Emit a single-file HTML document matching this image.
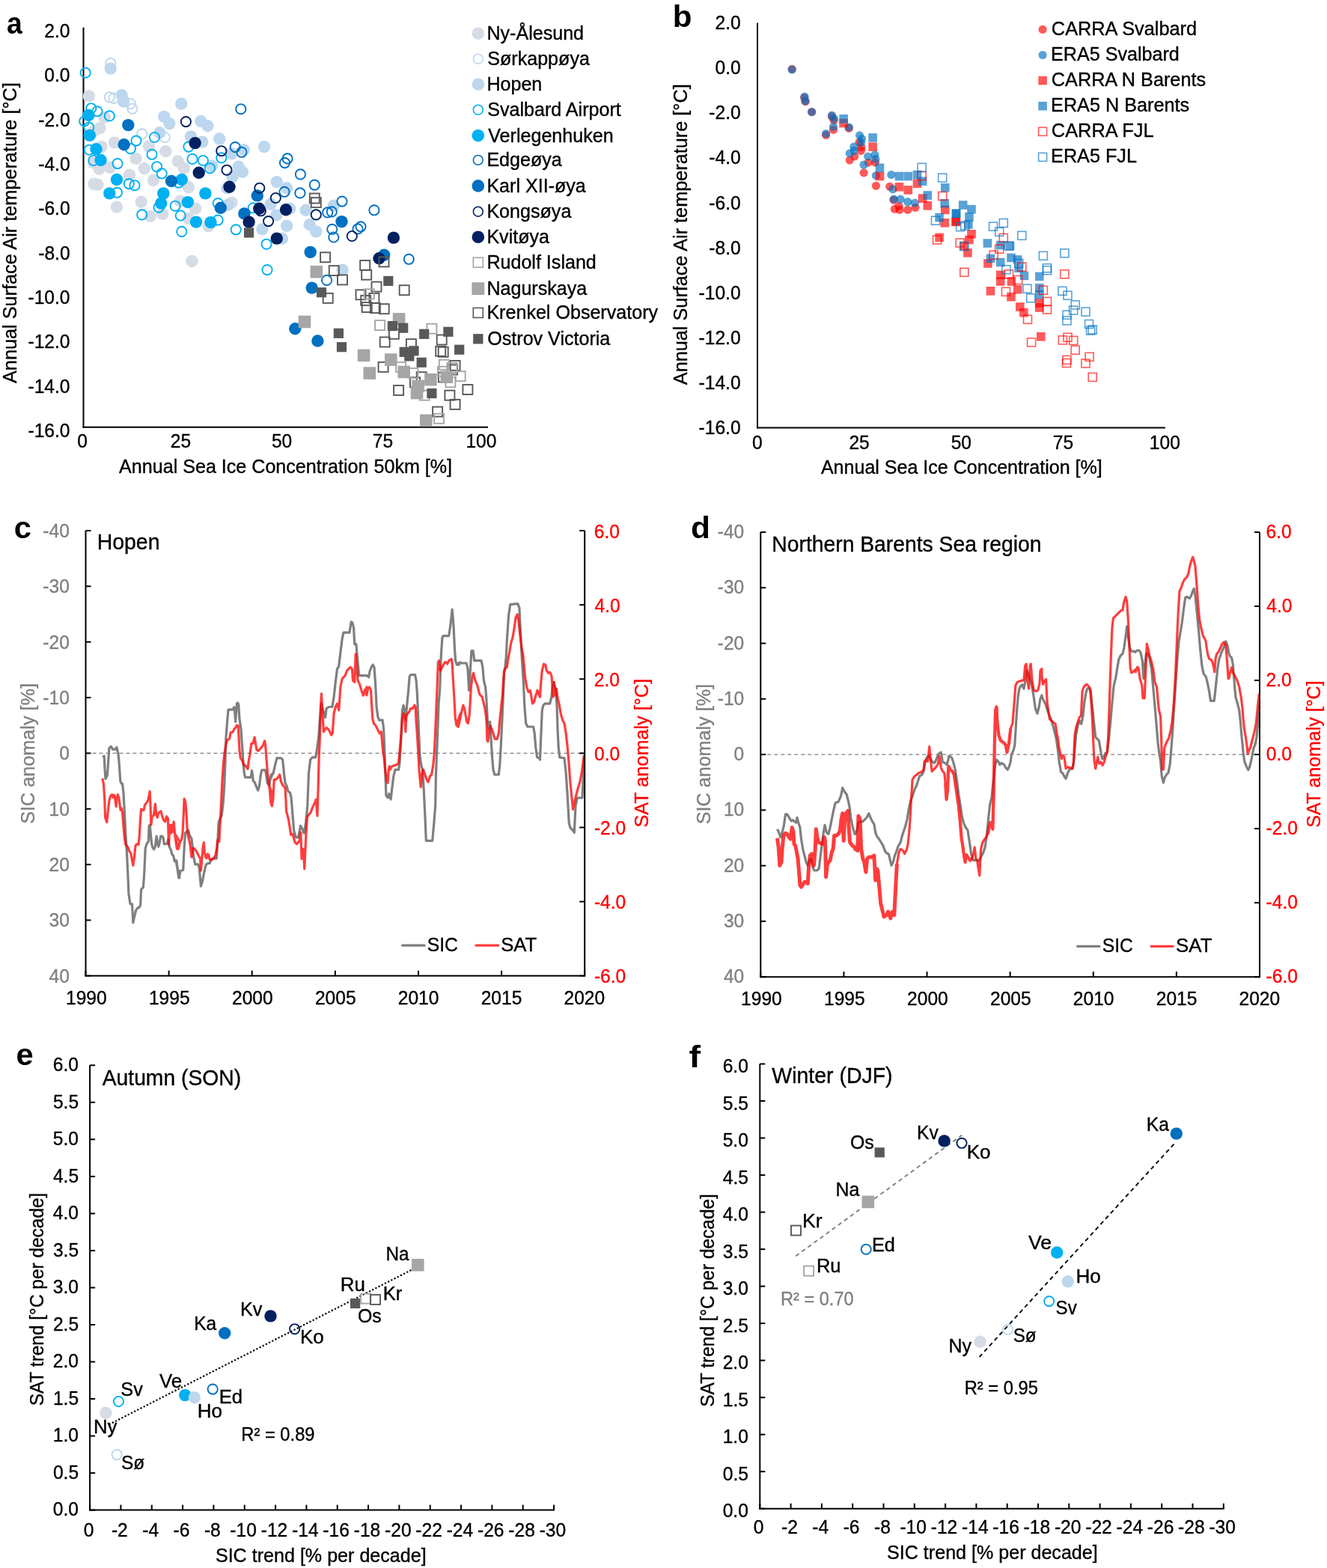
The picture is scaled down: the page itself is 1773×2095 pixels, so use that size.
<!DOCTYPE html><html><head><meta charset="utf-8"><title>Figure</title><style>html,body{margin:0;padding:0;background:#fff;}svg{display:block;}svg{font-family:"Liberation Sans", Arial, sans-serif;font-size:24.6px;}</style></head><body>
<svg width="1773" height="2095" viewBox="0 0 1773 2095">
<rect width="1773" height="2095" fill="#fff"/>
<text transform="translate(8.93 45.4) scale(1 1.045)" font-size="39" font-weight="bold" textLength="20.73" lengthAdjust="spacingAndGlyphs">a</text>
<line x1="111.5" y1="36.8" x2="111.5" y2="571.7" stroke="#000" stroke-width="2"/>
<line x1="110.5" y1="570.7" x2="652" y2="570.7" stroke="#000" stroke-width="2"/>
<text transform="translate(59.37 50) scale(1 1.045)" stroke="#000" stroke-width="0.35">2.0</text>
<text transform="translate(59.37 109.32) scale(1 1.045)" stroke="#000" stroke-width="0.35">0.0</text>
<text transform="translate(51.25 168.64) scale(1 1.045)" stroke="#000" stroke-width="0.35">-2.0</text>
<text transform="translate(51.25 227.96) scale(1 1.045)" stroke="#000" stroke-width="0.35">-4.0</text>
<text transform="translate(51.25 287.28) scale(1 1.045)" stroke="#000" stroke-width="0.35">-6.0</text>
<text transform="translate(51.25 346.6) scale(1 1.045)" stroke="#000" stroke-width="0.35">-8.0</text>
<text transform="translate(37.47 405.92) scale(1 1.045)" stroke="#000" stroke-width="0.35">-10.0</text>
<text transform="translate(37.47 465.24) scale(1 1.045)" stroke="#000" stroke-width="0.35">-12.0</text>
<text transform="translate(37.47 524.56) scale(1 1.045)" stroke="#000" stroke-width="0.35">-14.0</text>
<text transform="translate(37.47 583.88) scale(1 1.045)" stroke="#000" stroke-width="0.35">-16.0</text>
<text transform="translate(103.31 598) scale(1 1.045)" stroke="#000" stroke-width="0.35">0</text>
<text transform="translate(227.72 598) scale(1 1.045)" stroke="#000" stroke-width="0.35">25</text>
<text transform="translate(362.89 598) scale(1 1.045)" stroke="#000" stroke-width="0.35">50</text>
<text transform="translate(497.72 598) scale(1 1.045)" stroke="#000" stroke-width="0.35">75</text>
<text transform="translate(622.43 598) scale(1 1.045)" stroke="#000" stroke-width="0.35">100</text>
<text transform="translate(159.1 631.7) scale(1 1.045)" stroke="#000" stroke-width="0.35" textLength="444.99" lengthAdjust="spacingAndGlyphs">Annual Sea Ice Concentration 50km [%]</text>
<text transform="translate(21.8 512) rotate(-90) scale(1 1.045)" stroke="#000" stroke-width="0.35" textLength="401.8" lengthAdjust="spacingAndGlyphs">Annual Surface Air temperature [°C]</text>
<circle cx="118.8" cy="128.4" r="8.2" fill="#d6dce5"/>
<circle cx="139.7" cy="156.9" r="8.2" fill="#d6dce5"/>
<circle cx="133.6" cy="171.2" r="8.2" fill="#d6dce5"/>
<circle cx="153" cy="190.6" r="8.2" fill="#d6dce5"/>
<circle cx="125.4" cy="175.3" r="8.2" fill="#d6dce5"/>
<circle cx="135.6" cy="196.1" r="8.2" fill="#d6dce5"/>
<circle cx="125.4" cy="217.6" r="8.2" fill="#d6dce5"/>
<circle cx="132.6" cy="225.7" r="8.2" fill="#d6dce5"/>
<circle cx="146.8" cy="223.7" r="8.2" fill="#d6dce5"/>
<circle cx="181.5" cy="211.9" r="8.2" fill="#d6dce5"/>
<circle cx="192.8" cy="225.2" r="8.2" fill="#d6dce5"/>
<circle cx="221.3" cy="202.2" r="8.2" fill="#d6dce5"/>
<circle cx="237.7" cy="215.5" r="8.2" fill="#d6dce5"/>
<circle cx="245.8" cy="224.7" r="8.2" fill="#d6dce5"/>
<circle cx="172.9" cy="233.9" r="8.2" fill="#d6dce5"/>
<circle cx="205" cy="241" r="8.2" fill="#d6dce5"/>
<circle cx="125.4" cy="245.6" r="8.2" fill="#d6dce5"/>
<circle cx="130.5" cy="246.6" r="8.2" fill="#d6dce5"/>
<circle cx="156" cy="276.7" r="8.2" fill="#d6dce5"/>
<circle cx="188.7" cy="269.6" r="8.2" fill="#d6dce5"/>
<circle cx="200.9" cy="289" r="8.2" fill="#d6dce5"/>
<circle cx="217.2" cy="285.9" r="8.2" fill="#d6dce5"/>
<circle cx="251.9" cy="250.2" r="8.2" fill="#d6dce5"/>
<circle cx="240.7" cy="268.6" r="8.2" fill="#d6dce5"/>
<circle cx="261.1" cy="278.8" r="8.2" fill="#d6dce5"/>
<circle cx="251.9" cy="292" r="8.2" fill="#d6dce5"/>
<circle cx="278.5" cy="302.2" r="8.2" fill="#d6dce5"/>
<circle cx="198.9" cy="195.6" r="8.2" fill="#d6dce5"/>
<circle cx="309.6" cy="270.6" r="8.2" fill="#d6dce5"/>
<circle cx="256.5" cy="348.9" r="8.2" fill="#d6dce5"/>
<circle cx="147.7" cy="84.5" r="6.6" fill="none" stroke="#bdd7ee" stroke-width="1.9"/>
<circle cx="146.3" cy="129.9" r="6.6" fill="none" stroke="#bdd7ee" stroke-width="1.9"/>
<circle cx="151.9" cy="131.4" r="6.6" fill="none" stroke="#bdd7ee" stroke-width="1.9"/>
<circle cx="174.4" cy="138.6" r="6.6" fill="none" stroke="#bdd7ee" stroke-width="1.9"/>
<circle cx="176.9" cy="145.2" r="6.6" fill="none" stroke="#bdd7ee" stroke-width="1.9"/>
<circle cx="189.7" cy="178.9" r="6.6" fill="none" stroke="#bdd7ee" stroke-width="1.9"/>
<circle cx="220.3" cy="183.5" r="6.6" fill="none" stroke="#bdd7ee" stroke-width="1.9"/>
<circle cx="147.7" cy="91.6" r="8.2" fill="#bdd7ee"/>
<circle cx="162.7" cy="127.3" r="8.2" fill="#bdd7ee"/>
<circle cx="165.2" cy="135.5" r="8.2" fill="#bdd7ee"/>
<circle cx="242.2" cy="138.6" r="8.2" fill="#bdd7ee"/>
<circle cx="219.3" cy="155.9" r="8.2" fill="#bdd7ee"/>
<circle cx="226.4" cy="165.1" r="8.2" fill="#bdd7ee"/>
<circle cx="268.3" cy="162" r="8.2" fill="#bdd7ee"/>
<circle cx="277.4" cy="168.2" r="8.2" fill="#bdd7ee"/>
<circle cx="213.2" cy="177.3" r="8.2" fill="#bdd7ee"/>
<circle cx="255" cy="182.4" r="8.2" fill="#bdd7ee"/>
<circle cx="270.3" cy="189.6" r="8.2" fill="#bdd7ee"/>
<circle cx="293.3" cy="185.5" r="8.2" fill="#bdd7ee"/>
<circle cx="283.1" cy="221.6" r="8.2" fill="#bdd7ee"/>
<circle cx="325.9" cy="200.2" r="8.2" fill="#bdd7ee"/>
<circle cx="353" cy="196.1" r="8.2" fill="#bdd7ee"/>
<circle cx="318.8" cy="222.7" r="8.2" fill="#bdd7ee"/>
<circle cx="323.9" cy="229.8" r="8.2" fill="#bdd7ee"/>
<circle cx="310.6" cy="235.9" r="8.2" fill="#bdd7ee"/>
<circle cx="369.8" cy="243.1" r="8.2" fill="#bdd7ee"/>
<circle cx="383.1" cy="251.2" r="8.2" fill="#bdd7ee"/>
<circle cx="303.5" cy="251.2" r="8.2" fill="#bdd7ee"/>
<circle cx="361.6" cy="272.7" r="8.2" fill="#bdd7ee"/>
<circle cx="304.5" cy="273.7" r="8.2" fill="#bdd7ee"/>
<circle cx="369.3" cy="287.4" r="8.2" fill="#bdd7ee"/>
<circle cx="383.1" cy="301.7" r="8.2" fill="#bdd7ee"/>
<circle cx="350.4" cy="306.3" r="8.2" fill="#bdd7ee"/>
<circle cx="408.6" cy="280.8" r="8.2" fill="#bdd7ee"/>
<circle cx="413.7" cy="300.2" r="8.2" fill="#bdd7ee"/>
<circle cx="422.3" cy="309.4" r="8.2" fill="#bdd7ee"/>
<circle cx="445.8" cy="274.7" r="8.2" fill="#bdd7ee"/>
<circle cx="376.9" cy="318.6" r="8.2" fill="#bdd7ee"/>
<circle cx="387.1" cy="278.8" r="8.2" fill="#bdd7ee"/>
<circle cx="309.6" cy="205.3" r="8.2" fill="#bdd7ee"/>
<circle cx="457.5" cy="360.6" r="8.2" fill="#bdd7ee"/>
<circle cx="114.2" cy="97.2" r="6.6" fill="none" stroke="#00b0f0" stroke-width="1.9"/>
<circle cx="121.8" cy="144.7" r="6.6" fill="none" stroke="#00b0f0" stroke-width="1.9"/>
<circle cx="130" cy="148.8" r="6.6" fill="none" stroke="#00b0f0" stroke-width="1.9"/>
<circle cx="146.3" cy="154.9" r="6.6" fill="none" stroke="#00b0f0" stroke-width="1.9"/>
<circle cx="112.7" cy="162" r="6.6" fill="none" stroke="#00b0f0" stroke-width="1.9"/>
<circle cx="118.8" cy="170.2" r="6.6" fill="none" stroke="#00b0f0" stroke-width="1.9"/>
<circle cx="182" cy="188.1" r="6.6" fill="none" stroke="#00b0f0" stroke-width="1.9"/>
<circle cx="206.5" cy="183.5" r="6.6" fill="none" stroke="#00b0f0" stroke-width="1.9"/>
<circle cx="119.3" cy="200.2" r="6.6" fill="none" stroke="#00b0f0" stroke-width="1.9"/>
<circle cx="174.4" cy="198.7" r="6.6" fill="none" stroke="#00b0f0" stroke-width="1.9"/>
<circle cx="124.9" cy="214.5" r="6.6" fill="none" stroke="#00b0f0" stroke-width="1.9"/>
<circle cx="157" cy="218.6" r="6.6" fill="none" stroke="#00b0f0" stroke-width="1.9"/>
<circle cx="203" cy="206.3" r="6.6" fill="none" stroke="#00b0f0" stroke-width="1.9"/>
<circle cx="209.6" cy="222.7" r="6.6" fill="none" stroke="#00b0f0" stroke-width="1.9"/>
<circle cx="216.2" cy="231.8" r="6.6" fill="none" stroke="#00b0f0" stroke-width="1.9"/>
<circle cx="172.3" cy="245.6" r="6.6" fill="none" stroke="#00b0f0" stroke-width="1.9"/>
<circle cx="180" cy="247.7" r="6.6" fill="none" stroke="#00b0f0" stroke-width="1.9"/>
<circle cx="156.5" cy="257.3" r="6.6" fill="none" stroke="#00b0f0" stroke-width="1.9"/>
<circle cx="257" cy="212.4" r="6.6" fill="none" stroke="#00b0f0" stroke-width="1.9"/>
<circle cx="271.3" cy="214.5" r="6.6" fill="none" stroke="#00b0f0" stroke-width="1.9"/>
<circle cx="280.5" cy="224.7" r="6.6" fill="none" stroke="#00b0f0" stroke-width="1.9"/>
<circle cx="251.9" cy="196.1" r="6.6" fill="none" stroke="#00b0f0" stroke-width="1.9"/>
<circle cx="238.7" cy="244.1" r="6.6" fill="none" stroke="#00b0f0" stroke-width="1.9"/>
<circle cx="234.1" cy="275.2" r="6.6" fill="none" stroke="#00b0f0" stroke-width="1.9"/>
<circle cx="212.1" cy="277.2" r="6.6" fill="none" stroke="#00b0f0" stroke-width="1.9"/>
<circle cx="189.7" cy="286.9" r="6.6" fill="none" stroke="#00b0f0" stroke-width="1.9"/>
<circle cx="241.2" cy="288" r="6.6" fill="none" stroke="#00b0f0" stroke-width="1.9"/>
<circle cx="242.8" cy="309.4" r="6.6" fill="none" stroke="#00b0f0" stroke-width="1.9"/>
<circle cx="295.8" cy="210.9" r="6.6" fill="none" stroke="#00b0f0" stroke-width="1.9"/>
<circle cx="291.2" cy="271.6" r="6.6" fill="none" stroke="#00b0f0" stroke-width="1.9"/>
<circle cx="338.2" cy="277.8" r="6.6" fill="none" stroke="#00b0f0" stroke-width="1.9"/>
<circle cx="315.2" cy="306.8" r="6.6" fill="none" stroke="#00b0f0" stroke-width="1.9"/>
<circle cx="356" cy="326.2" r="6.6" fill="none" stroke="#00b0f0" stroke-width="1.9"/>
<circle cx="291.2" cy="294.1" r="6.6" fill="none" stroke="#00b0f0" stroke-width="1.9"/>
<circle cx="357" cy="360.6" r="6.6" fill="none" stroke="#00b0f0" stroke-width="1.9"/>
<circle cx="118.3" cy="153.9" r="8.2" fill="#00b0f0"/>
<circle cx="119.8" cy="180.9" r="8.2" fill="#00b0f0"/>
<circle cx="128.5" cy="199.2" r="8.2" fill="#00b0f0"/>
<circle cx="134.6" cy="214" r="8.2" fill="#00b0f0"/>
<circle cx="156" cy="240" r="8.2" fill="#00b0f0"/>
<circle cx="146.3" cy="258.4" r="8.2" fill="#00b0f0"/>
<circle cx="218.3" cy="258.4" r="8.2" fill="#00b0f0"/>
<circle cx="215.2" cy="271.6" r="8.2" fill="#00b0f0"/>
<circle cx="242.8" cy="240" r="8.2" fill="#00b0f0"/>
<circle cx="250.9" cy="270.1" r="8.2" fill="#00b0f0"/>
<circle cx="274.4" cy="258.4" r="8.2" fill="#00b0f0"/>
<circle cx="262.1" cy="296.6" r="8.2" fill="#00b0f0"/>
<circle cx="281.5" cy="297.1" r="8.2" fill="#00b0f0"/>
<circle cx="321.8" cy="145.7" r="6.6" fill="none" stroke="#0070c0" stroke-width="1.9"/>
<circle cx="314.2" cy="196.6" r="6.6" fill="none" stroke="#0070c0" stroke-width="1.9"/>
<circle cx="322.9" cy="203.3" r="6.6" fill="none" stroke="#0070c0" stroke-width="1.9"/>
<circle cx="384.1" cy="211.9" r="6.6" fill="none" stroke="#0070c0" stroke-width="1.9"/>
<circle cx="380.5" cy="217.6" r="6.6" fill="none" stroke="#0070c0" stroke-width="1.9"/>
<circle cx="401.4" cy="232.9" r="6.6" fill="none" stroke="#0070c0" stroke-width="1.9"/>
<circle cx="420.3" cy="247.1" r="6.6" fill="none" stroke="#0070c0" stroke-width="1.9"/>
<circle cx="380" cy="256.3" r="6.6" fill="none" stroke="#0070c0" stroke-width="1.9"/>
<circle cx="400.9" cy="257.9" r="6.6" fill="none" stroke="#0070c0" stroke-width="1.9"/>
<circle cx="437.7" cy="283.9" r="6.6" fill="none" stroke="#0070c0" stroke-width="1.9"/>
<circle cx="443.3" cy="282.9" r="6.6" fill="none" stroke="#0070c0" stroke-width="1.9"/>
<circle cx="457" cy="269.1" r="6.6" fill="none" stroke="#0070c0" stroke-width="1.9"/>
<circle cx="443.8" cy="306.3" r="6.6" fill="none" stroke="#0070c0" stroke-width="1.9"/>
<circle cx="445.8" cy="317" r="6.6" fill="none" stroke="#0070c0" stroke-width="1.9"/>
<circle cx="499.9" cy="280.8" r="6.6" fill="none" stroke="#0070c0" stroke-width="1.9"/>
<circle cx="478" cy="305.8" r="6.6" fill="none" stroke="#0070c0" stroke-width="1.9"/>
<circle cx="482" cy="302.8" r="6.6" fill="none" stroke="#0070c0" stroke-width="1.9"/>
<circle cx="436.6" cy="374.4" r="6.6" fill="none" stroke="#0070c0" stroke-width="1.9"/>
<circle cx="546.3" cy="346.3" r="6.6" fill="none" stroke="#0070c0" stroke-width="1.9"/>
<circle cx="171.3" cy="167.1" r="8.2" fill="#0070c0"/>
<circle cx="165.7" cy="193.2" r="8.2" fill="#0070c0"/>
<circle cx="229" cy="242" r="8.2" fill="#0070c0"/>
<circle cx="343.8" cy="261.4" r="8.2" fill="#0070c0"/>
<circle cx="294.8" cy="277.8" r="8.2" fill="#0070c0"/>
<circle cx="326.4" cy="285.4" r="8.2" fill="#0070c0"/>
<circle cx="456.5" cy="296.1" r="8.2" fill="#0070c0"/>
<circle cx="414.7" cy="336.9" r="8.2" fill="#0070c0"/>
<circle cx="416.7" cy="384.6" r="8.2" fill="#0070c0"/>
<circle cx="394.3" cy="439.2" r="8.2" fill="#0070c0"/>
<circle cx="424.4" cy="455.5" r="8.2" fill="#0070c0"/>
<circle cx="513.2" cy="340.7" r="8.2" fill="#0070c0"/>
<circle cx="248.4" cy="162.6" r="6.6" fill="none" stroke="#002060" stroke-width="1.9"/>
<circle cx="295.8" cy="201.7" r="6.6" fill="none" stroke="#002060" stroke-width="1.9"/>
<circle cx="303" cy="227.2" r="6.6" fill="none" stroke="#002060" stroke-width="1.9"/>
<circle cx="346.8" cy="251.2" r="6.6" fill="none" stroke="#002060" stroke-width="1.9"/>
<circle cx="368.3" cy="264.5" r="6.6" fill="none" stroke="#002060" stroke-width="1.9"/>
<circle cx="358.6" cy="295.6" r="6.6" fill="none" stroke="#002060" stroke-width="1.9"/>
<circle cx="422.3" cy="286.9" r="6.6" fill="none" stroke="#002060" stroke-width="1.9"/>
<circle cx="348.4" cy="281.8" r="6.6" fill="none" stroke="#002060" stroke-width="1.9"/>
<circle cx="470.3" cy="315.5" r="6.6" fill="none" stroke="#002060" stroke-width="1.9"/>
<circle cx="260.6" cy="191.1" r="8.2" fill="#002060"/>
<circle cx="265.7" cy="230.8" r="8.2" fill="#002060"/>
<circle cx="306.5" cy="249.7" r="8.2" fill="#002060"/>
<circle cx="346.3" cy="278.8" r="8.2" fill="#002060"/>
<circle cx="382" cy="280.3" r="8.2" fill="#002060"/>
<circle cx="332.6" cy="296.6" r="8.2" fill="#002060"/>
<circle cx="369.8" cy="318.6" r="8.2" fill="#002060"/>
<circle cx="525.9" cy="317.6" r="8.2" fill="#002060"/>
<circle cx="506.5" cy="345.3" r="8.2" fill="#002060"/>
<rect x="413.8" y="258.5" width="13" height="13" fill="none" stroke="#595959" stroke-width="1.9"/>
<rect x="415.8" y="264.1" width="13" height="13" fill="none" stroke="#595959" stroke-width="1.9"/>
<rect x="428.1" y="337.3" width="13" height="13" fill="none" stroke="#595959" stroke-width="1.9"/>
<rect x="439.8" y="355.1" width="13" height="13" fill="none" stroke="#595959" stroke-width="1.9"/>
<rect x="451" y="367.4" width="13" height="13" fill="none" stroke="#595959" stroke-width="1.9"/>
<rect x="431.7" y="391.9" width="13" height="13" fill="none" stroke="#595959" stroke-width="1.9"/>
<rect x="506.5" y="343.4" width="13" height="13" fill="none" stroke="#595959" stroke-width="1.9"/>
<rect x="481.2" y="348" width="13" height="13" fill="none" stroke="#595959" stroke-width="1.9"/>
<rect x="483.2" y="360.7" width="13" height="13" fill="none" stroke="#595959" stroke-width="1.9"/>
<rect x="496.5" y="376.6" width="13" height="13" fill="none" stroke="#595959" stroke-width="1.9"/>
<rect x="475.5" y="387.3" width="13" height="13" fill="none" stroke="#595959" stroke-width="1.9"/>
<rect x="493.4" y="391.9" width="13" height="13" fill="none" stroke="#595959" stroke-width="1.9"/>
<rect x="483.7" y="404.1" width="13" height="13" fill="none" stroke="#595959" stroke-width="1.9"/>
<rect x="494.9" y="405.1" width="13" height="13" fill="none" stroke="#595959" stroke-width="1.9"/>
<rect x="506.7" y="406.2" width="13" height="13" fill="none" stroke="#595959" stroke-width="1.9"/>
<rect x="482.2" y="394.9" width="13" height="13" fill="none" stroke="#595959" stroke-width="1.9"/>
<rect x="533.7" y="381.2" width="13" height="13" fill="none" stroke="#595959" stroke-width="1.9"/>
<rect x="519.9" y="439.8" width="13" height="13" fill="none" stroke="#595959" stroke-width="1.9"/>
<rect x="507.7" y="450.5" width="13" height="13" fill="none" stroke="#595959" stroke-width="1.9"/>
<rect x="542.9" y="453.1" width="13" height="13" fill="none" stroke="#595959" stroke-width="1.9"/>
<rect x="583.7" y="447.5" width="13" height="13" fill="none" stroke="#595959" stroke-width="1.9"/>
<rect x="582.2" y="462.8" width="13" height="13" fill="none" stroke="#595959" stroke-width="1.9"/>
<rect x="585.7" y="463.8" width="13" height="13" fill="none" stroke="#595959" stroke-width="1.9"/>
<rect x="505.6" y="483.9" width="13" height="13" fill="none" stroke="#595959" stroke-width="1.9"/>
<rect x="526.1" y="515" width="13" height="13" fill="none" stroke="#595959" stroke-width="1.9"/>
<rect x="556.7" y="497.2" width="13" height="13" fill="none" stroke="#595959" stroke-width="1.9"/>
<rect x="548" y="504.3" width="13" height="13" fill="none" stroke="#595959" stroke-width="1.9"/>
<rect x="601.6" y="481.9" width="13" height="13" fill="none" stroke="#595959" stroke-width="1.9"/>
<rect x="594.4" y="521.7" width="13" height="13" fill="none" stroke="#595959" stroke-width="1.9"/>
<rect x="601.6" y="533.9" width="13" height="13" fill="none" stroke="#595959" stroke-width="1.9"/>
<rect x="618.4" y="514" width="13" height="13" fill="none" stroke="#595959" stroke-width="1.9"/>
<rect x="578.1" y="543.6" width="13" height="13" fill="none" stroke="#595959" stroke-width="1.9"/>
<rect x="585.9" y="497.5" width="13" height="13" fill="none" stroke="#595959" stroke-width="1.9"/>
<rect x="598.1" y="487.5" width="13" height="13" fill="none" stroke="#595959" stroke-width="1.9"/>
<rect x="486.8" y="386.3" width="13" height="13" fill="none" stroke="#a6a6a6" stroke-width="1.9"/>
<rect x="501.1" y="428.1" width="13" height="13" fill="none" stroke="#a6a6a6" stroke-width="1.9"/>
<rect x="570.4" y="432.7" width="13" height="13" fill="none" stroke="#a6a6a6" stroke-width="1.9"/>
<rect x="529.1" y="483.9" width="13" height="13" fill="none" stroke="#a6a6a6" stroke-width="1.9"/>
<rect x="545.4" y="492.1" width="13" height="13" fill="none" stroke="#a6a6a6" stroke-width="1.9"/>
<rect x="586.8" y="480.8" width="13" height="13" fill="none" stroke="#a6a6a6" stroke-width="1.9"/>
<rect x="597.5" y="484.9" width="13" height="13" fill="none" stroke="#a6a6a6" stroke-width="1.9"/>
<rect x="608.7" y="496.2" width="13" height="13" fill="none" stroke="#a6a6a6" stroke-width="1.9"/>
<rect x="595.4" y="504.3" width="13" height="13" fill="none" stroke="#a6a6a6" stroke-width="1.9"/>
<rect x="580.1" y="552.8" width="13" height="13" fill="none" stroke="#a6a6a6" stroke-width="1.9"/>
<rect x="560.7" y="521.7" width="13" height="13" fill="none" stroke="#a6a6a6" stroke-width="1.9"/>
<rect x="585" y="489.8" width="13" height="13" fill="none" stroke="#a6a6a6" stroke-width="1.9"/>
<rect x="414.6" y="354.9" width="16.6" height="16.6" fill="#a6a6a6"/>
<rect x="398.7" y="421.7" width="16.6" height="16.6" fill="#a6a6a6"/>
<rect x="524.8" y="418.1" width="16.6" height="16.6" fill="#a6a6a6"/>
<rect x="477.8" y="466.6" width="16.6" height="16.6" fill="#a6a6a6"/>
<rect x="514" y="472.3" width="16.6" height="16.6" fill="#a6a6a6"/>
<rect x="485.5" y="490.3" width="16.6" height="16.6" fill="#a6a6a6"/>
<rect x="531.4" y="488.7" width="16.6" height="16.6" fill="#a6a6a6"/>
<rect x="567.1" y="498.9" width="16.6" height="16.6" fill="#a6a6a6"/>
<rect x="588.5" y="495.4" width="16.6" height="16.6" fill="#a6a6a6"/>
<rect x="548.7" y="516.8" width="16.6" height="16.6" fill="#a6a6a6"/>
<rect x="550.3" y="507.6" width="16.6" height="16.6" fill="#a6a6a6"/>
<rect x="561" y="553.5" width="16.6" height="16.6" fill="#a6a6a6"/>
<rect x="326" y="304.3" width="13.2" height="13.2" fill="#595959"/>
<rect x="422.9" y="384.1" width="13.2" height="13.2" fill="#595959"/>
<rect x="445.8" y="438.7" width="13.2" height="13.2" fill="#595959"/>
<rect x="449.9" y="457.1" width="13.2" height="13.2" fill="#595959"/>
<rect x="512.2" y="368.8" width="13.2" height="13.2" fill="#595959"/>
<rect x="517.8" y="429" width="13.2" height="13.2" fill="#595959"/>
<rect x="532.1" y="431.6" width="13.2" height="13.2" fill="#595959"/>
<rect x="560.1" y="439.7" width="13.2" height="13.2" fill="#595959"/>
<rect x="592.3" y="436.7" width="13.2" height="13.2" fill="#595959"/>
<rect x="607.1" y="460.6" width="13.2" height="13.2" fill="#595959"/>
<rect x="533.6" y="463.7" width="13.2" height="13.2" fill="#595959"/>
<rect x="546.4" y="462.2" width="13.2" height="13.2" fill="#595959"/>
<rect x="540.2" y="469.3" width="13.2" height="13.2" fill="#595959"/>
<rect x="556.6" y="477.7" width="13.2" height="13.2" fill="#595959"/>
<rect x="570.3" y="519" width="13.2" height="13.2" fill="#595959"/>
<circle cx="638.8" cy="44.7" r="8.3" fill="#d6dce5"/>
<text transform="translate(650.39 53.2) scale(1 1.045)" font-size="25.1" stroke="#000" stroke-width="0.35">Ny-Ålesund</text>
<circle cx="638.8" cy="78.7" r="6.4" fill="none" stroke="#bdd7ee" stroke-width="1.6"/>
<text transform="translate(651.27 87.2) scale(1 1.045)" font-size="25.1" stroke="#000" stroke-width="0.35">Sørkappøya</text>
<circle cx="638.8" cy="112.7" r="8.3" fill="#bdd7ee"/>
<text transform="translate(650.39 121.2) scale(1 1.045)" font-size="25.1" stroke="#000" stroke-width="0.35">Hopen</text>
<circle cx="638.8" cy="146.7" r="6.4" fill="none" stroke="#00b0f0" stroke-width="1.6"/>
<text transform="translate(651.27 155.2) scale(1 1.045)" font-size="25.1" stroke="#000" stroke-width="0.35">Svalbard Airport</text>
<circle cx="638.8" cy="181.2" r="8.3" fill="#00b0f0"/>
<text transform="translate(652.27 189.7) scale(1 1.045)" font-size="25.1" stroke="#000" stroke-width="0.35">Verlegenhuken</text>
<circle cx="638.8" cy="213.9" r="6.4" fill="none" stroke="#0070c0" stroke-width="1.6"/>
<text transform="translate(650.39 222.4) scale(1 1.045)" font-size="25.1" stroke="#000" stroke-width="0.35">Edgeøya</text>
<circle cx="638.8" cy="248.4" r="8.3" fill="#0070c0"/>
<text transform="translate(650.39 256.9) scale(1 1.045)" font-size="25.1" stroke="#000" stroke-width="0.35">Karl XII-øya</text>
<circle cx="638.8" cy="282.7" r="6.4" fill="none" stroke="#002060" stroke-width="1.6"/>
<text transform="translate(650.39 291.2) scale(1 1.045)" font-size="25.1" stroke="#000" stroke-width="0.35">Kongsøya</text>
<circle cx="638.8" cy="316.7" r="8.3" fill="#002060"/>
<text transform="translate(650.39 325.2) scale(1 1.045)" font-size="25.1" stroke="#000" stroke-width="0.35">Kvitøya</text>
<rect x="632.3" y="344.2" width="13" height="13" fill="none" stroke="#a6a6a6" stroke-width="1.6"/>
<text transform="translate(650.39 359.2) scale(1 1.045)" font-size="25.1" stroke="#000" stroke-width="0.35">Rudolf Island</text>
<rect x="630.4" y="377.2" width="16.8" height="16.8" fill="#a6a6a6"/>
<text transform="translate(650.39 394.1) scale(1 1.045)" font-size="25.1" stroke="#000" stroke-width="0.35">Nagurskaya</text>
<rect x="632.3" y="411.4" width="13" height="13" fill="none" stroke="#595959" stroke-width="1.6"/>
<text transform="translate(650.39 426.4) scale(1 1.045)" font-size="25.1" stroke="#000" stroke-width="0.35">Krenkel Observatory</text>
<rect x="632.15" y="446.15" width="13.3" height="13.3" fill="#595959"/>
<text transform="translate(651.27 461.3) scale(1 1.045)" font-size="25.1" stroke="#000" stroke-width="0.35">Ostrov Victoria</text>
<text transform="translate(898.76 36.4) scale(1 1.045)" font-size="39" font-weight="bold" textLength="25.73" lengthAdjust="spacingAndGlyphs">b</text>
<line x1="1012" y1="30.4" x2="1012" y2="572.4" stroke="#000" stroke-width="1.8"/>
<line x1="1011.1" y1="571.5" x2="1556.8" y2="571.5" stroke="#000" stroke-width="1.8"/>
<text transform="translate(955.47 39.1) scale(1 1.045)" stroke="#000" stroke-width="0.35">2.0</text>
<text transform="translate(955.47 99.22) scale(1 1.045)" stroke="#000" stroke-width="0.35">0.0</text>
<text transform="translate(947.35 159.34) scale(1 1.045)" stroke="#000" stroke-width="0.35">-2.0</text>
<text transform="translate(947.35 219.46) scale(1 1.045)" stroke="#000" stroke-width="0.35">-4.0</text>
<text transform="translate(947.35 279.58) scale(1 1.045)" stroke="#000" stroke-width="0.35">-6.0</text>
<text transform="translate(947.35 339.7) scale(1 1.045)" stroke="#000" stroke-width="0.35">-8.0</text>
<text transform="translate(933.57 399.82) scale(1 1.045)" stroke="#000" stroke-width="0.35">-10.0</text>
<text transform="translate(933.57 459.94) scale(1 1.045)" stroke="#000" stroke-width="0.35">-12.0</text>
<text transform="translate(933.57 520.06) scale(1 1.045)" stroke="#000" stroke-width="0.35">-14.0</text>
<text transform="translate(933.57 580.18) scale(1 1.045)" stroke="#000" stroke-width="0.35">-16.0</text>
<text transform="translate(1005.11 599.7) scale(1 1.045)" stroke="#000" stroke-width="0.35">0</text>
<text transform="translate(1134.42 599.7) scale(1 1.045)" stroke="#000" stroke-width="0.35">25</text>
<text transform="translate(1270.69 599.7) scale(1 1.045)" stroke="#000" stroke-width="0.35">50</text>
<text transform="translate(1406.82 599.7) scale(1 1.045)" stroke="#000" stroke-width="0.35">75</text>
<text transform="translate(1535.83 599.7) scale(1 1.045)" stroke="#000" stroke-width="0.35">100</text>
<text transform="translate(1096.9 633) scale(1 1.045)" stroke="#000" stroke-width="0.35" textLength="375.83" lengthAdjust="spacingAndGlyphs">Annual Sea Ice Concentration [%]</text>
<text transform="translate(917.7 514.2) rotate(-90) scale(1 1.045)" stroke="#000" stroke-width="0.35" textLength="401.9" lengthAdjust="spacingAndGlyphs">Annual Surface Air temperature [°C]</text>
<circle cx="1058.2" cy="92.4" r="5.6" fill="#ff0000" fill-opacity="0.65"/>
<circle cx="1074.7" cy="130.5" r="5.6" fill="#ff0000" fill-opacity="0.65"/>
<circle cx="1076.2" cy="135.6" r="5.6" fill="#ff0000" fill-opacity="0.65"/>
<circle cx="1084.6" cy="149.6" r="5.6" fill="#ff0000" fill-opacity="0.65"/>
<circle cx="1111.4" cy="155.7" r="5.6" fill="#ff0000" fill-opacity="0.65"/>
<circle cx="1114.2" cy="160.8" r="5.6" fill="#ff0000" fill-opacity="0.65"/>
<circle cx="1113.5" cy="173.4" r="5.6" fill="#ff0000" fill-opacity="0.65"/>
<circle cx="1103.6" cy="180.5" r="5.6" fill="#ff0000" fill-opacity="0.65"/>
<circle cx="1134.2" cy="171.4" r="5.6" fill="#ff0000" fill-opacity="0.65"/>
<circle cx="1148" cy="190.1" r="5.6" fill="#ff0000" fill-opacity="0.65"/>
<circle cx="1151" cy="196.7" r="5.6" fill="#ff0000" fill-opacity="0.65"/>
<circle cx="1150.5" cy="201.3" r="5.6" fill="#ff0000" fill-opacity="0.65"/>
<circle cx="1141.8" cy="209" r="5.6" fill="#ff0000" fill-opacity="0.65"/>
<circle cx="1135.2" cy="214.1" r="5.6" fill="#ff0000" fill-opacity="0.65"/>
<circle cx="1160.2" cy="217.1" r="5.6" fill="#ff0000" fill-opacity="0.65"/>
<circle cx="1169.4" cy="217.1" r="5.6" fill="#ff0000" fill-opacity="0.65"/>
<circle cx="1154.1" cy="230.9" r="5.6" fill="#ff0000" fill-opacity="0.65"/>
<circle cx="1170.4" cy="248.3" r="5.6" fill="#ff0000" fill-opacity="0.65"/>
<circle cx="1188.8" cy="249.3" r="5.6" fill="#ff0000" fill-opacity="0.65"/>
<circle cx="1193.9" cy="267.1" r="5.6" fill="#ff0000" fill-opacity="0.65"/>
<circle cx="1195.4" cy="279.4" r="5.6" fill="#ff0000" fill-opacity="0.65"/>
<circle cx="1202" cy="280.4" r="5.6" fill="#ff0000" fill-opacity="0.65"/>
<circle cx="1212.8" cy="280.4" r="5.6" fill="#ff0000" fill-opacity="0.65"/>
<circle cx="1223" cy="277.3" r="5.6" fill="#ff0000" fill-opacity="0.65"/>
<circle cx="1201" cy="275.3" r="5.6" fill="#ff0000" fill-opacity="0.65"/>
<circle cx="1058.2" cy="93" r="5.6" fill="#0070c0" fill-opacity="0.65"/>
<circle cx="1075" cy="129.2" r="5.6" fill="#0070c0" fill-opacity="0.65"/>
<circle cx="1075.9" cy="135" r="5.6" fill="#0070c0" fill-opacity="0.65"/>
<circle cx="1084.6" cy="149.5" r="5.6" fill="#0070c0" fill-opacity="0.65"/>
<circle cx="1111.4" cy="154" r="5.6" fill="#0070c0" fill-opacity="0.65"/>
<circle cx="1114.2" cy="158.4" r="5.6" fill="#0070c0" fill-opacity="0.65"/>
<circle cx="1113.5" cy="169.3" r="5.6" fill="#0070c0" fill-opacity="0.65"/>
<circle cx="1103.6" cy="178.5" r="5.6" fill="#0070c0" fill-opacity="0.65"/>
<circle cx="1134.2" cy="170" r="5.6" fill="#0070c0" fill-opacity="0.65"/>
<circle cx="1148.5" cy="180.9" r="5.6" fill="#0070c0" fill-opacity="0.65"/>
<circle cx="1151.5" cy="185.5" r="5.6" fill="#0070c0" fill-opacity="0.65"/>
<circle cx="1150.5" cy="190.6" r="5.6" fill="#0070c0" fill-opacity="0.65"/>
<circle cx="1140.8" cy="196.2" r="5.6" fill="#0070c0" fill-opacity="0.65"/>
<circle cx="1135.2" cy="204.9" r="5.6" fill="#0070c0" fill-opacity="0.65"/>
<circle cx="1141.3" cy="201.3" r="5.6" fill="#0070c0" fill-opacity="0.65"/>
<circle cx="1159.7" cy="209" r="5.6" fill="#0070c0" fill-opacity="0.65"/>
<circle cx="1168.9" cy="206.9" r="5.6" fill="#0070c0" fill-opacity="0.65"/>
<circle cx="1169.9" cy="212.6" r="5.6" fill="#0070c0" fill-opacity="0.65"/>
<circle cx="1154.1" cy="220.2" r="5.6" fill="#0070c0" fill-opacity="0.65"/>
<circle cx="1170.4" cy="234.5" r="5.6" fill="#0070c0" fill-opacity="0.65"/>
<circle cx="1190.8" cy="233.5" r="5.6" fill="#0070c0" fill-opacity="0.65"/>
<circle cx="1192.9" cy="252.9" r="5.6" fill="#0070c0" fill-opacity="0.65"/>
<circle cx="1194.4" cy="266.1" r="5.6" fill="#0070c0" fill-opacity="0.65"/>
<circle cx="1203.1" cy="266.1" r="5.6" fill="#0070c0" fill-opacity="0.65"/>
<circle cx="1212.8" cy="269.7" r="5.6" fill="#0070c0" fill-opacity="0.65"/>
<circle cx="1222.4" cy="271.2" r="5.6" fill="#0070c0" fill-opacity="0.65"/>
<rect x="1121.3" y="158.8" width="11.6" height="11.6" fill="#ff0000" fill-opacity="0.65" stroke-opacity="0.65"/>
<rect x="1160.3" y="190.4" width="11.6" height="11.6" fill="#ff0000" fill-opacity="0.65" stroke-opacity="0.65"/>
<rect x="1169.7" y="229.7" width="11.6" height="11.6" fill="#ff0000" fill-opacity="0.65" stroke-opacity="0.65"/>
<rect x="1195.7" y="244" width="11.6" height="11.6" fill="#ff0000" fill-opacity="0.65" stroke-opacity="0.65"/>
<rect x="1207.5" y="248.1" width="11.6" height="11.6" fill="#ff0000" fill-opacity="0.65" stroke-opacity="0.65"/>
<rect x="1219.7" y="239.4" width="11.6" height="11.6" fill="#ff0000" fill-opacity="0.65" stroke-opacity="0.65"/>
<rect x="1226.9" y="259.3" width="11.6" height="11.6" fill="#ff0000" fill-opacity="0.65" stroke-opacity="0.65"/>
<rect x="1233.5" y="269" width="11.6" height="11.6" fill="#ff0000" fill-opacity="0.65" stroke-opacity="0.65"/>
<rect x="1257" y="274.6" width="11.6" height="11.6" fill="#ff0000" fill-opacity="0.65" stroke-opacity="0.65"/>
<rect x="1256.4" y="292" width="11.6" height="11.6" fill="#ff0000" fill-opacity="0.65" stroke-opacity="0.65"/>
<rect x="1271.7" y="289.9" width="11.6" height="11.6" fill="#ff0000" fill-opacity="0.65" stroke-opacity="0.65"/>
<rect x="1271.2" y="290.6" width="11.6" height="11.6" fill="#ff0000" fill-opacity="0.65" stroke-opacity="0.65"/>
<rect x="1249.3" y="311.5" width="11.6" height="11.6" fill="#ff0000" fill-opacity="0.65" stroke-opacity="0.65"/>
<rect x="1292.2" y="307" width="11.6" height="11.6" fill="#ff0000" fill-opacity="0.65" stroke-opacity="0.65"/>
<rect x="1289.1" y="314.6" width="11.6" height="11.6" fill="#ff0000" fill-opacity="0.65" stroke-opacity="0.65"/>
<rect x="1282" y="322.8" width="11.6" height="11.6" fill="#ff0000" fill-opacity="0.65" stroke-opacity="0.65"/>
<rect x="1287.1" y="332" width="11.6" height="11.6" fill="#ff0000" fill-opacity="0.65" stroke-opacity="0.65"/>
<rect x="1314.1" y="346.2" width="11.6" height="11.6" fill="#ff0000" fill-opacity="0.65" stroke-opacity="0.65"/>
<rect x="1330.9" y="361.5" width="11.6" height="11.6" fill="#ff0000" fill-opacity="0.65" stroke-opacity="0.65"/>
<rect x="1330.9" y="370.2" width="11.6" height="11.6" fill="#ff0000" fill-opacity="0.65" stroke-opacity="0.65"/>
<rect x="1345.7" y="370.2" width="11.6" height="11.6" fill="#ff0000" fill-opacity="0.65" stroke-opacity="0.65"/>
<rect x="1353.9" y="380.9" width="11.6" height="11.6" fill="#ff0000" fill-opacity="0.65" stroke-opacity="0.65"/>
<rect x="1317.7" y="383" width="11.6" height="11.6" fill="#ff0000" fill-opacity="0.65" stroke-opacity="0.65"/>
<rect x="1345.2" y="390.9" width="11.6" height="11.6" fill="#ff0000" fill-opacity="0.65" stroke-opacity="0.65"/>
<rect x="1357" y="404.2" width="11.6" height="11.6" fill="#ff0000" fill-opacity="0.65" stroke-opacity="0.65"/>
<rect x="1362.1" y="411.9" width="11.6" height="11.6" fill="#ff0000" fill-opacity="0.65" stroke-opacity="0.65"/>
<rect x="1383" y="399.1" width="11.6" height="11.6" fill="#ff0000" fill-opacity="0.65" stroke-opacity="0.65"/>
<rect x="1383" y="405.2" width="11.6" height="11.6" fill="#ff0000" fill-opacity="0.65" stroke-opacity="0.65"/>
<rect x="1385" y="444" width="11.6" height="11.6" fill="#ff0000" fill-opacity="0.65" stroke-opacity="0.65"/>
<rect x="1121.3" y="153" width="11.6" height="11.6" fill="#0070c0" fill-opacity="0.65" stroke-opacity="0.65"/>
<rect x="1160.3" y="178.2" width="11.6" height="11.6" fill="#0070c0" fill-opacity="0.65" stroke-opacity="0.65"/>
<rect x="1169.7" y="218.5" width="11.6" height="11.6" fill="#0070c0" fill-opacity="0.65" stroke-opacity="0.65"/>
<rect x="1195.7" y="229.7" width="11.6" height="11.6" fill="#0070c0" fill-opacity="0.65" stroke-opacity="0.65"/>
<rect x="1207.5" y="229.7" width="11.6" height="11.6" fill="#0070c0" fill-opacity="0.65" stroke-opacity="0.65"/>
<rect x="1219.7" y="227.7" width="11.6" height="11.6" fill="#0070c0" fill-opacity="0.65" stroke-opacity="0.65"/>
<rect x="1226.9" y="236.3" width="11.6" height="11.6" fill="#0070c0" fill-opacity="0.65" stroke-opacity="0.65"/>
<rect x="1233.5" y="255.2" width="11.6" height="11.6" fill="#0070c0" fill-opacity="0.65" stroke-opacity="0.65"/>
<rect x="1257" y="245" width="11.6" height="11.6" fill="#0070c0" fill-opacity="0.65" stroke-opacity="0.65"/>
<rect x="1256.4" y="265.9" width="11.6" height="11.6" fill="#0070c0" fill-opacity="0.65" stroke-opacity="0.65"/>
<rect x="1249.3" y="284.8" width="11.6" height="11.6" fill="#0070c0" fill-opacity="0.65" stroke-opacity="0.65"/>
<rect x="1271.7" y="279.7" width="11.6" height="11.6" fill="#0070c0" fill-opacity="0.65" stroke-opacity="0.65"/>
<rect x="1280.9" y="268.2" width="11.6" height="11.6" fill="#0070c0" fill-opacity="0.65" stroke-opacity="0.65"/>
<rect x="1292.2" y="273.8" width="11.6" height="11.6" fill="#0070c0" fill-opacity="0.65" stroke-opacity="0.65"/>
<rect x="1271.8" y="279.4" width="11.6" height="11.6" fill="#0070c0" fill-opacity="0.65" stroke-opacity="0.65"/>
<rect x="1289.1" y="284" width="11.6" height="11.6" fill="#0070c0" fill-opacity="0.65" stroke-opacity="0.65"/>
<rect x="1288.1" y="294.2" width="11.6" height="11.6" fill="#0070c0" fill-opacity="0.65" stroke-opacity="0.65"/>
<rect x="1313.6" y="319.2" width="11.6" height="11.6" fill="#0070c0" fill-opacity="0.65" stroke-opacity="0.65"/>
<rect x="1330.9" y="321.8" width="11.6" height="11.6" fill="#0070c0" fill-opacity="0.65" stroke-opacity="0.65"/>
<rect x="1343.7" y="322.8" width="11.6" height="11.6" fill="#0070c0" fill-opacity="0.65" stroke-opacity="0.65"/>
<rect x="1345.2" y="338.6" width="11.6" height="11.6" fill="#0070c0" fill-opacity="0.65" stroke-opacity="0.65"/>
<rect x="1353.9" y="341.1" width="11.6" height="11.6" fill="#0070c0" fill-opacity="0.65" stroke-opacity="0.65"/>
<rect x="1330.9" y="344.7" width="11.6" height="11.6" fill="#0070c0" fill-opacity="0.65" stroke-opacity="0.65"/>
<rect x="1317.7" y="339.6" width="11.6" height="11.6" fill="#0070c0" fill-opacity="0.65" stroke-opacity="0.65"/>
<rect x="1355.4" y="352.4" width="11.6" height="11.6" fill="#0070c0" fill-opacity="0.65" stroke-opacity="0.65"/>
<rect x="1362.6" y="362.6" width="11.6" height="11.6" fill="#0070c0" fill-opacity="0.65" stroke-opacity="0.65"/>
<rect x="1383" y="363.6" width="11.6" height="11.6" fill="#0070c0" fill-opacity="0.65" stroke-opacity="0.65"/>
<rect x="1383" y="378.9" width="11.6" height="11.6" fill="#0070c0" fill-opacity="0.65" stroke-opacity="0.65"/>
<rect x="1383" y="387.9" width="11.6" height="11.6" fill="#0070c0" fill-opacity="0.65" stroke-opacity="0.65"/>
<rect x="1226.1" y="229.5" width="11" height="11" fill="none" stroke="#ff0000" stroke-width="1.6" stroke-opacity="0.65"/>
<rect x="1253.7" y="256.5" width="11" height="11" fill="none" stroke="#ff0000" stroke-width="1.6" stroke-opacity="0.65"/>
<rect x="1277.2" y="319" width="11" height="11" fill="none" stroke="#ff0000" stroke-width="1.6" stroke-opacity="0.65"/>
<rect x="1335.3" y="312.4" width="11" height="11" fill="none" stroke="#ff0000" stroke-width="1.6" stroke-opacity="0.65"/>
<rect x="1329.7" y="327.2" width="11" height="11" fill="none" stroke="#ff0000" stroke-width="1.6" stroke-opacity="0.65"/>
<rect x="1322.1" y="335.3" width="11" height="11" fill="none" stroke="#ff0000" stroke-width="1.6" stroke-opacity="0.65"/>
<rect x="1359.8" y="351.1" width="11" height="11" fill="none" stroke="#ff0000" stroke-width="1.6" stroke-opacity="0.65"/>
<rect x="1282.8" y="358.3" width="11" height="11" fill="none" stroke="#ff0000" stroke-width="1.6" stroke-opacity="0.65"/>
<rect x="1342.5" y="360.8" width="11" height="11" fill="none" stroke="#ff0000" stroke-width="1.6" stroke-opacity="0.65"/>
<rect x="1354.7" y="368.5" width="11" height="11" fill="none" stroke="#ff0000" stroke-width="1.6" stroke-opacity="0.65"/>
<rect x="1416.9" y="360.8" width="11" height="11" fill="none" stroke="#ff0000" stroke-width="1.6" stroke-opacity="0.65"/>
<rect x="1388.4" y="382.3" width="11" height="11" fill="none" stroke="#ff0000" stroke-width="1.6" stroke-opacity="0.65"/>
<rect x="1338.4" y="384.3" width="11" height="11" fill="none" stroke="#ff0000" stroke-width="1.6" stroke-opacity="0.65"/>
<rect x="1246.5" y="314.9" width="11" height="11" fill="none" stroke="#ff0000" stroke-width="1.6" stroke-opacity="0.65"/>
<rect x="1367.5" y="421.3" width="11" height="11" fill="none" stroke="#ff0000" stroke-width="1.6" stroke-opacity="0.65"/>
<rect x="1393.5" y="397.4" width="11" height="11" fill="none" stroke="#ff0000" stroke-width="1.6" stroke-opacity="0.65"/>
<rect x="1393.5" y="408.1" width="11" height="11" fill="none" stroke="#ff0000" stroke-width="1.6" stroke-opacity="0.65"/>
<rect x="1372.6" y="451.9" width="11" height="11" fill="none" stroke="#ff0000" stroke-width="1.6" stroke-opacity="0.65"/>
<rect x="1414.4" y="448.9" width="11" height="11" fill="none" stroke="#ff0000" stroke-width="1.6" stroke-opacity="0.65"/>
<rect x="1421" y="445.3" width="11" height="11" fill="none" stroke="#ff0000" stroke-width="1.6" stroke-opacity="0.65"/>
<rect x="1428.7" y="449.4" width="11" height="11" fill="none" stroke="#ff0000" stroke-width="1.6" stroke-opacity="0.65"/>
<rect x="1431.2" y="462.2" width="11" height="11" fill="none" stroke="#ff0000" stroke-width="1.6" stroke-opacity="0.65"/>
<rect x="1420" y="475.4" width="11" height="11" fill="none" stroke="#ff0000" stroke-width="1.6" stroke-opacity="0.65"/>
<rect x="1419.5" y="479.5" width="11" height="11" fill="none" stroke="#ff0000" stroke-width="1.6" stroke-opacity="0.65"/>
<rect x="1450.1" y="471.3" width="11" height="11" fill="none" stroke="#ff0000" stroke-width="1.6" stroke-opacity="0.65"/>
<rect x="1445" y="480" width="11" height="11" fill="none" stroke="#ff0000" stroke-width="1.6" stroke-opacity="0.65"/>
<rect x="1454.2" y="498.4" width="11" height="11" fill="none" stroke="#ff0000" stroke-width="1.6" stroke-opacity="0.65"/>
<rect x="1226.1" y="218.3" width="11" height="11" fill="none" stroke="#0070c0" stroke-width="1.6" stroke-opacity="0.65"/>
<rect x="1253.7" y="232.1" width="11" height="11" fill="none" stroke="#0070c0" stroke-width="1.6" stroke-opacity="0.65"/>
<rect x="1244.5" y="289.2" width="11" height="11" fill="none" stroke="#0070c0" stroke-width="1.6" stroke-opacity="0.65"/>
<rect x="1277.7" y="297.6" width="11" height="11" fill="none" stroke="#0070c0" stroke-width="1.6" stroke-opacity="0.65"/>
<rect x="1283.8" y="296" width="11" height="11" fill="none" stroke="#0070c0" stroke-width="1.6" stroke-opacity="0.65"/>
<rect x="1321.5" y="297.1" width="11" height="11" fill="none" stroke="#0070c0" stroke-width="1.6" stroke-opacity="0.65"/>
<rect x="1335.3" y="292.5" width="11" height="11" fill="none" stroke="#0070c0" stroke-width="1.6" stroke-opacity="0.65"/>
<rect x="1329.7" y="304.2" width="11" height="11" fill="none" stroke="#0070c0" stroke-width="1.6" stroke-opacity="0.65"/>
<rect x="1359.8" y="309.3" width="11" height="11" fill="none" stroke="#0070c0" stroke-width="1.6" stroke-opacity="0.65"/>
<rect x="1342.5" y="323.1" width="11" height="11" fill="none" stroke="#0070c0" stroke-width="1.6" stroke-opacity="0.65"/>
<rect x="1282.8" y="323.6" width="11" height="11" fill="none" stroke="#0070c0" stroke-width="1.6" stroke-opacity="0.65"/>
<rect x="1338.9" y="354.7" width="11" height="11" fill="none" stroke="#0070c0" stroke-width="1.6" stroke-opacity="0.65"/>
<rect x="1355.7" y="346.5" width="11" height="11" fill="none" stroke="#0070c0" stroke-width="1.6" stroke-opacity="0.65"/>
<rect x="1388.4" y="336.3" width="11" height="11" fill="none" stroke="#0070c0" stroke-width="1.6" stroke-opacity="0.65"/>
<rect x="1416.9" y="332.8" width="11" height="11" fill="none" stroke="#0070c0" stroke-width="1.6" stroke-opacity="0.65"/>
<rect x="1393.5" y="352.7" width="11" height="11" fill="none" stroke="#0070c0" stroke-width="1.6" stroke-opacity="0.65"/>
<rect x="1393.5" y="355.7" width="11" height="11" fill="none" stroke="#0070c0" stroke-width="1.6" stroke-opacity="0.65"/>
<rect x="1366.9" y="380.2" width="11" height="11" fill="none" stroke="#0070c0" stroke-width="1.6" stroke-opacity="0.65"/>
<rect x="1413.9" y="383.3" width="11" height="11" fill="none" stroke="#0070c0" stroke-width="1.6" stroke-opacity="0.65"/>
<rect x="1421" y="389.2" width="11" height="11" fill="none" stroke="#0070c0" stroke-width="1.6" stroke-opacity="0.65"/>
<rect x="1431.2" y="401.9" width="11" height="11" fill="none" stroke="#0070c0" stroke-width="1.6" stroke-opacity="0.65"/>
<rect x="1428.7" y="409.1" width="11" height="11" fill="none" stroke="#0070c0" stroke-width="1.6" stroke-opacity="0.65"/>
<rect x="1420" y="415.2" width="11" height="11" fill="none" stroke="#0070c0" stroke-width="1.6" stroke-opacity="0.65"/>
<rect x="1420" y="422.9" width="11" height="11" fill="none" stroke="#0070c0" stroke-width="1.6" stroke-opacity="0.65"/>
<rect x="1445" y="411.1" width="11" height="11" fill="none" stroke="#0070c0" stroke-width="1.6" stroke-opacity="0.65"/>
<rect x="1449.6" y="427.5" width="11" height="11" fill="none" stroke="#0070c0" stroke-width="1.6" stroke-opacity="0.65"/>
<rect x="1451.6" y="436.1" width="11" height="11" fill="none" stroke="#0070c0" stroke-width="1.6" stroke-opacity="0.65"/>
<rect x="1454.2" y="435.1" width="11" height="11" fill="none" stroke="#0070c0" stroke-width="1.6" stroke-opacity="0.65"/>
<rect x="1371.7" y="392.8" width="11" height="11" fill="none" stroke="#0070c0" stroke-width="1.6" stroke-opacity="0.65"/>
<circle cx="1393.1" cy="39.4" r="5.6" fill="#ff0000" fill-opacity="0.65"/>
<text transform="translate(1404.84 46.9) scale(1 1.045)" font-size="25.2" stroke="#000" stroke-width="0.35" textLength="194.3" lengthAdjust="spacingAndGlyphs">CARRA Svalbard</text>
<circle cx="1393.1" cy="73.5" r="5.6" fill="#0070c0" fill-opacity="0.65"/>
<text transform="translate(1404.08 81) scale(1 1.045)" font-size="25.2" stroke="#000" stroke-width="0.35" textLength="171.71" lengthAdjust="spacingAndGlyphs">ERA5 Svalbard</text>
<rect x="1387.3" y="101.8" width="11.6" height="11.6" fill="#ff0000" fill-opacity="0.65" stroke-opacity="0.65"/>
<text transform="translate(1404.84 115.1) scale(1 1.045)" font-size="25.2" stroke="#000" stroke-width="0.35" textLength="206.23" lengthAdjust="spacingAndGlyphs">CARRA N Barents</text>
<rect x="1387.3" y="135.9" width="11.6" height="11.6" fill="#0070c0" fill-opacity="0.65" stroke-opacity="0.65"/>
<text transform="translate(1404.08 149.2) scale(1 1.045)" font-size="25.2" stroke="#000" stroke-width="0.35" textLength="185.04" lengthAdjust="spacingAndGlyphs">ERA5 N Barents</text>
<rect x="1387.6" y="170.3" width="11" height="11" fill="none" stroke="#ff0000" stroke-width="1.6" stroke-opacity="0.65"/>
<text transform="translate(1404.84 183.3) scale(1 1.045)" font-size="25.2" stroke="#000" stroke-width="0.35" textLength="136.72" lengthAdjust="spacingAndGlyphs">CARRA FJL</text>
<rect x="1387.6" y="204.4" width="11" height="11" fill="none" stroke="#0070c0" stroke-width="1.6" stroke-opacity="0.65"/>
<text transform="translate(1404.08 217.4) scale(1 1.045)" font-size="25.2" stroke="#000" stroke-width="0.35" textLength="114.83" lengthAdjust="spacingAndGlyphs">ERA5 FJL</text>
<text transform="translate(18.84 718.5) scale(1 1.045)" font-size="39" font-weight="bold" textLength="23.18" lengthAdjust="spacingAndGlyphs">c</text>
<text transform="translate(129.73 734.4) scale(1 1.045)" font-size="28.4" stroke="#000" stroke-width="0.35" textLength="83.77" lengthAdjust="spacingAndGlyphs">Hopen</text>
<line x1="114.5" y1="1006.4" x2="781.2" y2="1006.4" stroke="#808080" stroke-width="1.3" stroke-dasharray="5 4"/>
<polyline points="137.1,1011.5 139.2,1010.1 139.9,1025.4 140.9,1040.7 143.4,1035.9 144.8,1015.7 145.9,999.7 148.3,997.3 150.4,1001.1 154.5,1001.1 155.9,998.3 158,1007.3 159.4,1022.6 160.8,1043.5 162.2,1047 163.6,1047 165,1060.2 166.4,1085.3 167.8,1113.1 169.2,1134 170.6,1161.8 171.9,1193.9 174,1207.8 176.5,1207.8 177.9,1232.8 179.6,1224.5 181.7,1216.1 183.8,1213.3 185.9,1212.6 187.7,1209.2 188.6,1188.3 190,1186.9 191.4,1185.5 192.8,1166 194.2,1134 195.2,1129.8 196.6,1126.3 198.4,1124.3 199.1,1103.4 200.2,1102 201.2,1113.1 202.6,1127 204,1132.6 205.8,1134.7 207.4,1131.2 209.1,1117.3 210.2,1124.3 211.6,1131.2 213,1127 214.7,1117.3 216.9,1117.3 218.3,1120.1 219.3,1127.7 221.4,1127.7 223.4,1127 224.8,1121.5 226.2,1131.2 228.3,1135.4 229.7,1141 231.8,1143.7 233.2,1150.7 236,1150.7 237.4,1163.2 238.8,1173 240,1173 235,1149.3 239.2,1173 241.3,1163.2 244.7,1162.5 246.1,1134 247.5,1113.1 251.7,1109.6 253.8,1117.3 255.9,1120.1 257.3,1131.2 258.7,1145.1 260.8,1154.9 264.9,1154.9 266.3,1160.4 268.4,1184.1 270.5,1177.2 272.6,1166 275.4,1154.9 278.2,1153.5 280.2,1153.5 281.6,1149.3 283.7,1147.2 289.3,1147.2 290.7,1127 292.1,1099.2 293.5,1095 296.2,1089.5 298.3,1071.4 299.7,1050.5 301.1,1015.7 301.8,987.8 303.9,960 305.1,948.2 311.6,948.2 312.4,945 313.3,945 314.6,964.5 316.5,940 317.6,939 318.8,941.5 319.9,960 322,973.9 323.4,994.8 324.8,1015.7 326.2,1032.4 327.6,1038.6 335.2,1038.6 336.6,1029.6 337.7,1038 338.3,1043.5 340.1,1044.9 342.9,1051.9 344.7,1056 346.4,1050.5 348.4,1035.2 349.8,1028.9 354.7,1028.9 356.1,1038 357.2,1046.3 359.6,1049.1 361.7,1038 363.1,1035.2 365,1032.4 360,1043.8 362.2,1035 364.9,1033.9 367.7,1021.7 369.9,1012.9 375.4,1012.9 377.7,1015.1 379.4,1032.8 381,1046 383.2,1050.4 384.7,1057 387.6,1059.3 389.1,1065.9 390.9,1087.9 392.7,1110 395.3,1118.8 398.6,1118.8 401.5,1103.4 404.1,1107.8 406.3,1113.3 408.6,1099 410.8,1076.9 412.5,1032.8 414.7,1015.1 417.4,1011.8 421.8,1011.8 424,997.5 425.8,984.2 427.3,962.1 429.5,940.1 431.7,948.9 434.6,958.8 436.1,946.7 439.5,944.5 443.9,944.5 446.1,931.2 448.3,911.4 450.5,893.7 452.7,890.4 454.9,871.7 457.1,854 458.9,845.2 467,845.2 469.2,830.8 470.8,831.9 472.6,838.6 473.7,860.6 475.9,860.6 477,873.9 478.7,891.5 479.6,902.6 490,902.6 485,902.6 490.5,902.6 492.7,904.8 493.8,898.1 496,891.5 498.2,888.2 500,891.5 501.6,913.6 503.1,944.5 504.9,957.7 506.6,962.1 511,962.1 512.6,973.2 513.7,999.7 514.8,1032.8 515.9,1062.6 518.1,1065.9 519.9,1060.4 522.1,1068.1 523.6,1054.8 525.8,1037.2 528,1028.4 532.5,1028.4 534,1019.5 535.8,988.6 537.5,948.9 539.1,942.3 540.6,948.9 541.9,962.1 543.5,944.5 545.7,922.4 547.2,903.7 549,901.5 554.5,901.5 556.1,909.2 557.4,926.8 558.9,962.1 560,988.6 561.1,1010.7 562.7,1021.7 564.5,1028.4 566.2,1054.8 567.8,1087.9 569.3,1123.3 577.7,1123.3 579.9,1099 581.7,1076.9 582.5,1032.8 584.3,988.6 586.1,940.1 587.6,922.4 589.2,878.3 590.9,851.8 592,849.6 599.8,849.6 602,834.1 604.2,814.3 605.9,834.1 607.5,867.2 608.6,882.7 610.4,888.2 613,888.2 615,884.9 610,887.1 612.6,888.2 614.4,886 623.2,886 625,893.7 626.6,922.4 628.1,900.4 629.9,869.5 632.1,869.5 633.8,882.7 643.1,882.7 644.9,891.5 646.4,909.2 648.6,918 649.7,931.2 651.5,964.4 653,973.2 654.6,964.4 655.9,984.2 657.5,1010.7 659,1028.4 660.8,1035 666.3,1035 667.8,1021.7 669.1,999.7 670.7,966.6 672.2,933.5 673.6,900.4 675.1,889.3 676.2,878.3 677.3,856.2 679.5,823.1 681.7,807.7 691.7,806.6 693.9,812.1 695.6,845.2 697.2,878.3 699.4,911.4 700.9,944.5 702.7,966.6 704.9,971 712.6,971 714.2,979.8 715.9,999.7 717.7,1011.8 720.4,1012.9 721.5,1015.1 722.6,988.6 724.3,948.9 725.9,942.3 728.1,940.1 734.7,940.1 736.9,931.2 738,918 740,911.4 740.3,913.6 742.6,920.3 744.1,944.6 745.2,977.7 746.3,999.8 747.8,1011.9 754,1013 756.2,1032.9 758.4,1066 760.2,1099.1 761.8,1105.7 765.1,1109.1 767.3,1112.4 769,1077 771.3,1066 777.9,1066 779.4,1037.3 780.5,1010.8" fill="none" stroke="#7f7f7f" stroke-width="3.2" stroke-linejoin="round"/>
<g opacity="0.76">
<polyline points="136.7,1040 138.5,1047.7 139.9,1071.4 140.6,1092.2 142.7,1098.5 144.1,1085.3 145.9,1070 147.6,1063.7 149.7,1061.6 151.1,1065.8 152.5,1062.3 153.8,1067.2 155.2,1077.6 155.9,1067.2 157.3,1061.6 158.7,1065.1 160.1,1075.5 161.2,1082.5 162.2,1079.7 163.6,1085.3 165,1103.4 166.4,1120.1 167.8,1128.4 169.2,1129.8 171.2,1132.6 173.3,1138.2 174.7,1139.6 176.8,1150.7 177.9,1156.3 179.6,1143.7 181,1129.8 183.1,1127.7 185.2,1128.4 186.3,1115.9 187.3,1097.8 188.6,1081.1 190.5,1082.5 192.1,1082.5 193.5,1075.5 195.2,1073.4 196.6,1071.4 198,1068.6 200.2,1057.4 201.2,1081.1 201.9,1102 203.3,1090.8 205.4,1089.5 207.4,1074.1 208.8,1088.1 210.2,1092.2 211.6,1086.7 213.7,1084.6 215.1,1083.9 216.5,1089.5 218.6,1095.7 220.7,1097.8 222.5,1090.8 224.4,1093.6 225.5,1128.4 226.9,1102 228.6,1113.1 229.7,1102 230.8,1111.7 232.2,1097.8 233.9,1117.3 236,1131.2 237.4,1134.7 238.8,1128.4 240,1124.3 235,1115.9 236.4,1134 238.5,1134 240.6,1125 242.7,1121.5 244,1113.1 245.4,1085.3 246.1,1067.2 247.8,1071.4 248.9,1085.3 250.3,1110.3 251.7,1118.7 253.8,1127 255.9,1145.1 258,1133.3 260.1,1134 262.8,1138.2 265.6,1143.7 267.7,1147.2 268.4,1163.2 269.8,1147.9 271.2,1131.2 272.3,1125.6 273.3,1138.2 274.7,1145.1 276.1,1146.5 277.5,1141 278.8,1142.4 280.2,1148.6 283,1148.6 285.8,1146.5 287.9,1142.4 289.3,1135.4 290.7,1122.9 292.8,1124.3 294.2,1099.2 295.6,1071.4 296.9,1043.5 298.3,1022.6 299.7,1008.7 301.8,994.8 303.9,988.5 306.7,987.1 308.1,978.8 310.9,978.1 313,973.9 315,971.8 316.4,969 318.2,969.7 319.2,987.8 319.9,1001.8 321.3,1012.9 323.4,1015.7 325.5,1021.2 328.3,1023.3 331,1027.5 332.4,1015.7 333.8,1008.7 335.9,993.4 338,993.4 340.1,985.1 341.5,993.4 342.9,1001.8 345,1003.2 347.8,1000.4 351.2,996.2 353.6,989.9 354.7,996.2 356.1,1015.7 357.5,1032.4 359.2,1046.3 361,1060.2 362.4,1074.1 363.1,1076.2 365,1064.4 360,1050.4 361.8,1072.5 363.3,1076.9 364.9,1068.1 366.2,1041.6 368.8,1041.6 371,1039.4 373.7,1035 375.4,1043.8 377.2,1048.2 381,1052.6 382.1,1072.5 382.5,1083.5 385.4,1094.6 386.9,1103.4 388.7,1115.5 390.9,1114.4 394.2,1125.5 396.4,1127.7 398.6,1125.5 400.2,1123.3 401.9,1112.2 403,1147.5 405.2,1134.3 406.8,1160.8 408.6,1121 410.3,1092.4 413,1087.9 415.2,1085.7 417.4,1079.1 420.7,1072.5 422.2,1068.1 424,1090.2 425.1,1054.8 426.2,1010.7 427.3,988.6 428.4,944.5 429.5,926.8 430.6,948.9 432.4,977.6 436.1,972.1 439.5,975.4 442.8,982 444.3,979.8 446.1,953.3 448.3,944.5 450.5,940.1 452.7,948.9 453.8,933.5 454.9,918 457.1,907 461.1,902.6 463.7,895.9 468.1,891.5 470.4,893.7 471.5,909.2 473.7,911.4 475.2,873.9 477,895.9 478.1,909.2 480.3,913.6 483.6,924.6 485.4,929 487.6,924.6 490,918 485,929 487.2,922.4 489,920.2 489.9,929 491.6,920.2 493.4,918 495.6,922.4 496.5,940.1 497.8,959.9 499.3,966.6 501.6,968.8 504.9,975.4 507.1,979.8 509.3,977.6 510.4,988.6 511.5,1001.9 513.2,1012.9 514.8,1030.6 517,1043.8 518.1,1046 519.2,1028.4 520.3,1023.9 521.4,1028.4 523.6,1023.9 526.9,1022.8 530.2,1021.7 532.5,1019.5 534,1004.1 535.8,984.2 537.5,959.9 539.1,953.3 540.6,957.7 541.9,977.6 542.8,957.7 544.6,953.3 546.8,951.1 548.6,946.7 551.2,946.7 553.9,942.3 555.2,944.5 556.1,964.4 557.4,982 558.9,1006.3 560,1028.4 562.2,1051.5 564,1032.8 565.6,1028.4 567.8,1035 570,1041.6 572.2,1044.9 574.4,1037.2 576.6,1035 578.8,1021.7 580.3,1006.3 582.1,966.6 583.9,922.4 585.4,884.9 586.5,882.7 588.3,895.9 590.9,891.5 594.2,884.9 596.5,884.9 597.6,887.1 599.8,882.7 603.1,880.5 604.2,887.1 605.3,907 606.8,931.2 608.2,957.7 609.7,968.8 612.6,964.4 615,953.3 610,968.8 612.2,971 614,964.4 616.2,953.3 618.8,942.3 620.6,946.7 622.1,955.5 623.7,964.4 625.4,966.6 627.2,955.5 628.1,940.1 629.4,918 631,904.8 632.5,899.2 633.8,904.8 635.4,910.3 636.9,913.6 638.7,919.1 640.5,926.8 642,929 644.2,931.2 645.8,937.9 647.5,944.5 649.3,955.5 650.2,966.6 650.8,988.6 651.9,990.8 653,982 654.1,973.2 655.2,969.9 657.5,975.4 659,979.8 661.2,987.5 664.1,987.5 666.3,979.8 667.8,962.1 669.6,944.5 671.4,929 672.2,913.6 673.6,895.9 675.8,892.6 677.3,891.5 678.9,880.5 680.6,871.7 682.8,858.4 685,851.8 687.2,838.6 689,825.3 691.2,820.9 692.8,829.7 695,849.6 697.2,867.2 698.7,873.9 700,887.1 701.6,904.8 703.8,918 706,924.6 708.2,922.4 709.3,926.8 711.5,940.1 713.7,937.9 715.9,929 718.1,922.4 720.4,929 721.5,931.2 722.6,913.6 724.3,895.9 726.5,887.1 728.7,888.2 730.3,895.9 732.5,899.2 734.7,898.1 736.9,902.6 738,915.8 739.1,931.2 740,911.4 741.9,929.1 743.4,920.3 745.2,933.5 747.4,942.4 749.2,953.4 751.8,962.2 754,966.6 756.2,979.9 758.4,999.8 760.2,1021.8 761.8,1043.9 764,1066 765.5,1081.5 768.4,1068.2 771.7,1055 775,1043.9 777.2,1032.9 779.4,1015.2 780.5,1008.6" fill="none" stroke="#ff0000" stroke-width="3.2" stroke-linejoin="round"/>
</g>
<line x1="114.5" y1="709" x2="114.5" y2="1304.8" stroke="#000" stroke-width="2"/>
<line x1="781.2" y1="709" x2="781.2" y2="1304.8" stroke="#000" stroke-width="2"/>
<line x1="113.5" y1="1303.8" x2="782.2" y2="1303.8" stroke="#000" stroke-width="2"/>
<line x1="114.5" y1="709" x2="121.5" y2="709" stroke="#000" stroke-width="2"/>
<line x1="114.5" y1="783.35" x2="121.5" y2="783.35" stroke="#000" stroke-width="2"/>
<line x1="114.5" y1="857.7" x2="121.5" y2="857.7" stroke="#000" stroke-width="2"/>
<line x1="114.5" y1="932.05" x2="121.5" y2="932.05" stroke="#000" stroke-width="2"/>
<line x1="114.5" y1="1006.4" x2="121.5" y2="1006.4" stroke="#000" stroke-width="2"/>
<line x1="114.5" y1="1080.75" x2="121.5" y2="1080.75" stroke="#000" stroke-width="2"/>
<line x1="114.5" y1="1155.1" x2="121.5" y2="1155.1" stroke="#000" stroke-width="2"/>
<line x1="114.5" y1="1229.45" x2="121.5" y2="1229.45" stroke="#000" stroke-width="2"/>
<line x1="114.5" y1="1303.8" x2="121.5" y2="1303.8" stroke="#000" stroke-width="2"/>
<line x1="774.2" y1="709" x2="781.2" y2="709" stroke="#000" stroke-width="2"/>
<line x1="774.2" y1="808.13" x2="781.2" y2="808.13" stroke="#000" stroke-width="2"/>
<line x1="774.2" y1="907.27" x2="781.2" y2="907.27" stroke="#000" stroke-width="2"/>
<line x1="774.2" y1="1006.4" x2="781.2" y2="1006.4" stroke="#000" stroke-width="2"/>
<line x1="774.2" y1="1105.53" x2="781.2" y2="1105.53" stroke="#000" stroke-width="2"/>
<line x1="774.2" y1="1204.67" x2="781.2" y2="1204.67" stroke="#000" stroke-width="2"/>
<line x1="774.2" y1="1303.8" x2="781.2" y2="1303.8" stroke="#000" stroke-width="2"/>
<line x1="114.5" y1="1296.8" x2="114.5" y2="1303.8" stroke="#000" stroke-width="2"/>
<line x1="225.62" y1="1296.8" x2="225.62" y2="1303.8" stroke="#000" stroke-width="2"/>
<line x1="336.73" y1="1296.8" x2="336.73" y2="1303.8" stroke="#000" stroke-width="2"/>
<line x1="447.85" y1="1296.8" x2="447.85" y2="1303.8" stroke="#000" stroke-width="2"/>
<line x1="558.97" y1="1296.8" x2="558.97" y2="1303.8" stroke="#000" stroke-width="2"/>
<line x1="670.08" y1="1296.8" x2="670.08" y2="1303.8" stroke="#000" stroke-width="2"/>
<line x1="781.2" y1="1296.8" x2="781.2" y2="1303.8" stroke="#000" stroke-width="2"/>
<text transform="translate(57.31 718) scale(1 1.045)" fill="#808080" stroke="#808080" stroke-width="0.35">-40</text>
<text transform="translate(57.31 792.35) scale(1 1.045)" fill="#808080" stroke="#808080" stroke-width="0.35">-30</text>
<text transform="translate(57.31 866.7) scale(1 1.045)" fill="#808080" stroke="#808080" stroke-width="0.35">-20</text>
<text transform="translate(57.31 941.05) scale(1 1.045)" fill="#808080" stroke="#808080" stroke-width="0.35">-10</text>
<text transform="translate(79.21 1015.4) scale(1 1.045)" fill="#808080" stroke="#808080" stroke-width="0.35">0</text>
<text transform="translate(65.56 1089.75) scale(1 1.045)" fill="#808080" stroke="#808080" stroke-width="0.35">10</text>
<text transform="translate(65.56 1164.1) scale(1 1.045)" fill="#808080" stroke="#808080" stroke-width="0.35">20</text>
<text transform="translate(65.56 1238.45) scale(1 1.045)" fill="#808080" stroke="#808080" stroke-width="0.35">30</text>
<text transform="translate(65.56 1312.8) scale(1 1.045)" fill="#808080" stroke="#808080" stroke-width="0.35">40</text>
<text transform="translate(793.77 718.6) scale(1 1.045)" fill="#ff0000" stroke="#ff0000" stroke-width="0.35">6.0</text>
<text transform="translate(794.51 817.6) scale(1 1.045)" fill="#ff0000" stroke="#ff0000" stroke-width="0.35">4.0</text>
<text transform="translate(793.77 916.6) scale(1 1.045)" fill="#ff0000" stroke="#ff0000" stroke-width="0.35">2.0</text>
<text transform="translate(794.02 1015.6) scale(1 1.045)" fill="#ff0000" stroke="#ff0000" stroke-width="0.35">0.0</text>
<text transform="translate(793.89 1114.6) scale(1 1.045)" fill="#ff0000" stroke="#ff0000" stroke-width="0.35">-2.0</text>
<text transform="translate(793.89 1213.6) scale(1 1.045)" fill="#ff0000" stroke="#ff0000" stroke-width="0.35">-4.0</text>
<text transform="translate(793.89 1312.6) scale(1 1.045)" fill="#ff0000" stroke="#ff0000" stroke-width="0.35">-6.0</text>
<text transform="translate(87.99 1341.6) scale(1 1.045)" stroke="#000" stroke-width="0.35">1990</text>
<text transform="translate(198.91 1341.6) scale(1 1.045)" stroke="#000" stroke-width="0.35">1995</text>
<text transform="translate(310.02 1341.6) scale(1 1.045)" stroke="#000" stroke-width="0.35">2000</text>
<text transform="translate(420.94 1341.6) scale(1 1.045)" stroke="#000" stroke-width="0.35">2005</text>
<text transform="translate(531.74 1341.6) scale(1 1.045)" stroke="#000" stroke-width="0.35">2010</text>
<text transform="translate(642.66 1341.6) scale(1 1.045)" stroke="#000" stroke-width="0.35">2015</text>
<text transform="translate(753.46 1341.6) scale(1 1.045)" stroke="#000" stroke-width="0.35">2020</text>
<line x1="537.7" y1="1263.2" x2="567.1" y2="1263.2" stroke="#7f7f7f" stroke-width="3.2" stroke-linecap="round"/>
<line x1="636" y1="1263.2" x2="665.7" y2="1263.2" stroke="#ff0000" stroke-width="3.2" stroke-linecap="round" stroke-opacity="0.76"/>
<text transform="translate(570.67 1270.8) scale(1 1.045)" font-size="25" stroke="#000" stroke-width="0.35" textLength="41.25" lengthAdjust="spacingAndGlyphs">SIC</text>
<text transform="translate(669.17 1270.8) scale(1 1.045)" font-size="25" stroke="#000" stroke-width="0.35" textLength="48.14" lengthAdjust="spacingAndGlyphs">SAT</text>
<text transform="translate(46.4 1100.72) rotate(-90) scale(1 1.045)" font-size="25" fill="#808080" stroke="#808080" stroke-width="0.35" textLength="187.73" lengthAdjust="spacingAndGlyphs">SIC anomaly [%]</text>
<text transform="translate(866 1105.53) rotate(-90) scale(1 1.045)" font-size="25" fill="#ff0000" stroke="#ff0000" stroke-width="0.35" textLength="198.6" lengthAdjust="spacingAndGlyphs">SAT anomaly [°C]</text>
<text transform="translate(922.94 718.6) scale(1 1.045)" font-size="39" font-weight="bold" textLength="25.93" lengthAdjust="spacingAndGlyphs">d</text>
<text transform="translate(1031.33 736.7) scale(1 1.045)" font-size="28.4" stroke="#000" stroke-width="0.35" textLength="360.12" lengthAdjust="spacingAndGlyphs">Northern Barents Sea region</text>
<line x1="1016.3" y1="1008.1" x2="1683" y2="1008.1" stroke="#808080" stroke-width="1.3" stroke-dasharray="5 4"/>
<polyline points="1038.5,1107.8 1040.7,1112.2 1042.9,1118.8 1045.1,1112.2 1047.3,1103.4 1049.5,1087.9 1051.7,1087.9 1054.4,1092.4 1057.2,1096.8 1059.5,1095.7 1061.7,1097.9 1063.9,1099 1065,1092.4 1066.7,1099 1068.9,1105.6 1070.5,1121 1072.7,1134.3 1074.9,1143.1 1077.1,1151.9 1079.3,1156.4 1081.5,1149.7 1083.7,1147.5 1085.9,1158.6 1088.1,1163 1091.5,1163 1094.1,1160.8 1096.3,1143.1 1098.5,1125.5 1100.3,1112.2 1102,1102.3 1104.3,1112.2 1106.9,1114.4 1109.1,1105.6 1111.3,1094.6 1114,1081.3 1116.2,1072.5 1120.1,1071.4 1123.5,1063.7 1125.7,1052.6 1127.9,1057 1131.2,1061.5 1133.4,1070.3 1135.2,1079.1 1136.7,1092.4 1138.9,1103.4 1142,1114.4 1142.5,1114.4 1144.7,1110 1146.9,1099 1149.1,1097.9 1152.4,1097.9 1154.7,1095.7 1158,1092.4 1160.8,1086.8 1163,1092.4 1165.7,1097.9 1167.9,1101.2 1169.7,1112.2 1171.2,1116.6 1174.5,1121 1177.2,1125.5 1180,1129.9 1182.2,1136.5 1184.5,1139.8 1187.3,1140.9 1188.9,1147.5 1191.1,1156.4 1193.3,1151.9 1195.5,1143.1 1197.7,1137.6 1199.9,1131 1203.2,1125.5 1205.4,1116.6 1207.6,1110 1209.8,1103.4 1212,1094.6 1214.2,1081.3 1216.5,1070.3 1219.1,1063.7 1222,1054.8 1224.2,1050.4 1226.4,1043.8 1228.6,1037.2 1231.9,1035 1234.1,1030.6 1236.3,1017.3 1238.5,1011.8 1240.7,1009.6 1242.9,1012.9 1245.1,1017.3 1248.5,1019.5 1250.7,1015.1 1254,1007.4 1257.3,1005.2 1259.5,1018.4 1262.8,1019.5 1265,1021.7 1267,1015.1 1267.5,1010.7 1269.7,1010.7 1271.9,1012.9 1274.1,1019.5 1276.3,1028.4 1278.6,1043.8 1280.8,1061.5 1283,1074.7 1285.2,1090.2 1287.4,1099 1290.2,1105.6 1292.9,1108.9 1295.1,1123.3 1297.3,1138.7 1299.1,1147.5 1301.7,1149.7 1305,1148.6 1307.2,1150.8 1310.6,1145.3 1313.9,1138.7 1316.1,1132.1 1318.3,1116.6 1320.5,1094.6 1322.7,1074.7 1324.9,1065.9 1327.1,1043.8 1329.3,1023.9 1331.5,1015.1 1333.7,1017.3 1335.9,1021.7 1338.1,1019.5 1341.5,1021.7 1344.1,1026.1 1346.3,1028.4 1348.5,1023.9 1350.3,1017.3 1351.4,1008.5 1354.3,1001.9 1355.8,995.3 1357.3,971 1358.7,948.9 1360.2,931.2 1361.8,920.2 1363.5,916.9 1365.7,914.7 1367.9,920.2 1370.1,909.2 1372.3,895.9 1374.6,902.6 1376.8,909.2 1379,918 1381.2,931.2 1383.4,946.7 1386,953.3 1388.2,944.5 1390,933.5 1392,929 1392.5,932 1394.7,936.4 1396.9,940.8 1399.1,947.5 1401.3,954.1 1404.2,960.7 1406.9,969.5 1409.1,978.4 1411.3,987.2 1413.5,1002.6 1415.2,1018.1 1417.5,1031.3 1420.1,1033.5 1422.3,1037.9 1424.1,1040.2 1426.3,1033.5 1428.9,1028 1432.2,1026.9 1434.5,1020.3 1436,1000.4 1437.8,980.6 1440,969.5 1442.6,962.9 1444.8,967.3 1447,956.3 1448.8,938.6 1451,925.4 1452.8,919.9 1455.4,919.9 1457.2,923.2 1458.7,938.6 1460.3,951.9 1462,969.5 1463.8,985 1466,987.2 1468.2,989.4 1469.8,998.2 1471.3,1007 1472.6,1013.7 1474.2,1013.7 1476.4,1007 1479.3,1004.8 1481.5,987.2 1483.7,965.1 1485.9,938.6 1488.1,916.6 1490.7,905.5 1492.5,894.5 1494.7,881.2 1497.3,875.7 1500,873.5 1501.8,865.8 1504,850.4 1505.7,837.1 1507.3,850.4 1509.5,865.8 1511.7,870.2 1514.6,870.2 1517,871.3 1517.5,870.1 1519.7,869 1521.9,869 1524.1,872.4 1526.3,882.3 1527.9,906.6 1529.7,888.9 1531.4,873.5 1533.6,873.5 1535.8,880.1 1538.5,893.3 1540.7,917.6 1542.9,941.9 1545.1,968.4 1547.3,994.8 1549.1,1008.1 1550.6,1016.9 1552.2,1036.8 1554.4,1045.6 1556.1,1039 1558.8,1034.6 1561,1032.4 1563.2,1021.3 1565,999.3 1566.7,977.2 1568.3,950.7 1570.5,917.6 1572.7,884.5 1574.9,858 1577.1,844.8 1579.3,831.5 1581.5,813.9 1583.7,798.4 1585.9,797.3 1589.2,799.5 1591.5,796.2 1593.7,789.6 1595.4,786.3 1597,796.2 1599.2,818.3 1601.4,840.4 1603.6,866.8 1605.8,888.9 1608,899.9 1611.3,904.4 1613.5,913.2 1615.7,924.2 1617.5,936.4 1620.1,936.4 1622.3,936.4 1624.6,915.4 1626.8,893.3 1629,880.1 1632.3,871.2 1635.2,864.6 1637.8,856.9 1640,862.4 1642,873.5 1643.2,876.4 1645.6,878.8 1647.4,888.4 1648.6,904 1649.8,919.5 1651,931.5 1653.4,939.9 1655.8,949.5 1657.3,963.9 1658.8,981.9 1660,993.9 1661.1,1005.9 1662.9,1017.9 1665.3,1023.9 1667.7,1028.7 1669.5,1025.1 1671.3,1017.9 1673.1,1009.5 1674.9,999.9 1677.3,993.9 1679.1,984.3 1680.3,969.9 1681.5,955.5 1682.7,943.5" fill="none" stroke="#7f7f7f" stroke-width="3.2" stroke-linejoin="round"/>
<g opacity="0.76">
<polyline points="1038.5,1119.9 1040.2,1132.1 1041.8,1156.4 1044,1151.9 1045.1,1134.3 1046.9,1116.6 1049.1,1113.3 1051.7,1114.4 1054.4,1118.8 1056.1,1121 1058.3,1105.6 1060.1,1112.2 1061,1127.7 1062.8,1129.9 1064.5,1138.7 1066.1,1147.5 1067.6,1165.2 1068.9,1182.8 1070.5,1185.1 1072,1182.8 1074.9,1178.4 1077.1,1178.4 1079.3,1180.6 1080.4,1160.8 1082.2,1143.1 1084.4,1140.9 1085.9,1149.7 1087.5,1156.4 1089.2,1134.3 1090.3,1107.8 1091.9,1118.8 1093.7,1125.5 1097,1126.6 1099.2,1127.7 1101.4,1118.8 1102.5,1123.3 1103.6,1171.8 1105.1,1156.4 1106.9,1151.9 1109.1,1149.7 1111.3,1138.7 1113.1,1134.3 1114.6,1116.6 1116.8,1116.6 1120.1,1114.4 1122.3,1110 1124.1,1094.6 1125.7,1086.8 1127.2,1123.3 1129,1087.9 1131.2,1085.7 1132.9,1083.5 1134.5,1112.2 1135.6,1125.5 1138.9,1129.9 1142,1132.1 1142.5,1134.3 1145.8,1136.5 1146.9,1090.2 1149.1,1094.6 1150.7,1134.3 1152.9,1147.5 1154.7,1151.9 1156.9,1165.2 1158.6,1147.5 1160.8,1145.3 1164.6,1145.3 1167.9,1143.1 1169.7,1176.2 1171.2,1160.8 1172.8,1163 1175,1187.3 1176.7,1207.1 1178.9,1216 1181.1,1224.8 1184.5,1222.6 1186.7,1218.2 1190,1227 1192.2,1218.2 1194.8,1222.6 1196.6,1187.3 1198.4,1154.2 1201,1138.7 1203.2,1134.3 1206.5,1136.5 1208.7,1140.9 1211.6,1134.3 1213.1,1127.7 1214.7,1112.2 1216,1094.6 1217.6,1065.9 1219.1,1041.6 1222,1037.2 1224.8,1035 1227.5,1032.8 1230.8,1031.7 1234.1,1028.4 1235.2,1017.3 1237.4,1015.1 1239.6,1017.3 1241.8,997.5 1242.9,1010.7 1245.1,1030.6 1247.3,1028.4 1249.6,1026.1 1252.9,1021.7 1255.1,1010.7 1257.3,1026.1 1259.5,1030.6 1261.7,1032.8 1263.2,1046 1264.6,1068.1 1266.1,1054.8 1267,1028.4 1267.5,1023.9 1269.7,1028.4 1272.6,1030.6 1274.8,1035 1276.3,1046 1278.6,1061.5 1280.8,1076.9 1283,1099 1284.5,1118.8 1286.3,1129.9 1288,1143.1 1289.6,1151.9 1291.1,1142 1293.3,1145.3 1296.2,1149.7 1298.4,1147.5 1300.6,1140.9 1302.2,1132.1 1303.9,1147.5 1305.7,1149.7 1307.2,1160.8 1308.8,1169.6 1310.6,1134.3 1312.8,1125.5 1315,1122.2 1317.6,1118.8 1319.8,1114.4 1321.6,1105.6 1323.4,1099 1324.9,1103.4 1326.4,1107.8 1327.8,1054.8 1328.7,999.7 1330,948.9 1331.5,944.5 1332.6,966.6 1334.4,982 1337,989.7 1339.2,990.8 1341.5,993 1343.7,995.3 1345.4,1005.2 1348.1,993 1350.3,973.2 1352.9,966.6 1354.7,944.5 1356.9,915.8 1359.1,911.4 1362.4,910.3 1365.3,909.2 1367.9,909.2 1369.7,889.3 1371.2,887.1 1372.8,909.2 1374.6,920.2 1376.3,889.3 1377.2,887.1 1379,909.2 1381.2,922.4 1384.5,923.5 1386.7,922.4 1388.9,913.6 1390,895.9 1392,893.7 1391.9,903.3 1393.6,914.4 1395.4,909.9 1397.6,907.7 1399.1,938.6 1400.7,949.7 1402.4,960.7 1404.7,962.9 1407.3,965.1 1410.2,967.3 1411.7,978.4 1413.5,987.2 1415.2,1000.4 1416.8,1007 1418.3,1013.7 1420.1,1009.3 1421.9,1011.5 1424.1,1026.9 1426.3,1024.7 1429.4,1025.8 1433.3,1026.9 1434.5,1015.9 1436,982.8 1437.8,971.7 1440,965.1 1442.2,958.5 1444.4,956.3 1446.1,923.2 1447.7,918.8 1449.9,915.5 1452.1,914.4 1454.3,916.6 1456.5,919.9 1458.1,938.6 1459.4,960.7 1460.9,993.8 1462,1015.9 1463.8,1026.9 1465.3,1018.1 1466.9,1011.5 1468.7,1020.3 1470.9,1018.1 1473.1,1022.5 1475.3,1018.1 1477,1011.5 1479.3,1004.8 1480.8,982.8 1482.3,938.6 1484.1,883.5 1485.9,839.3 1487.4,826.1 1489.6,823.9 1491.8,821.7 1495.1,818.3 1497.3,816.1 1500,815 1501.8,804 1504,797.4 1505.7,804 1507.3,828.3 1508.8,861.4 1510.2,892.3 1511.7,898.9 1513.9,897.8 1517,894.5 1517.5,897.7 1519.7,891.1 1521.3,893.3 1523,906.6 1525.7,915.4 1527,933 1529.2,933 1530.8,895.5 1532.3,860.2 1534.1,866.8 1535.8,875.7 1538,882.3 1540.7,893.3 1542.9,911 1545.5,917.6 1546.9,933 1548.4,948.5 1550.6,957.3 1551.7,988.2 1552.8,1027.9 1554.4,1027.9 1555.7,999.3 1558.3,992.6 1561.7,986 1563.9,977.2 1566.1,963.9 1568.3,939.7 1570.5,902.1 1572.7,851.4 1574.2,818.3 1576,789.6 1578.2,785.2 1580.4,778.6 1582.6,774.1 1585.9,770.8 1588.1,765.3 1589.7,756.5 1591.5,749.9 1593.7,744.3 1595.4,749.9 1597,756.5 1599.2,785.2 1600.7,807.2 1602.5,827.1 1604.7,838.1 1607.3,849.2 1610.9,855.8 1612.4,866.8 1614,875.7 1615.7,880.1 1619,882.3 1621.2,888.9 1622.8,897.7 1624.1,880.1 1625.7,873.5 1627.9,871.2 1630.1,866.8 1632.9,860.2 1635.2,858 1637.8,862.4 1639.6,884.5 1641.1,906.6 1642,906.4 1643.2,900.4 1645.6,892 1646.8,898 1649.2,901.6 1652.8,908.8 1655.8,918.3 1658.2,931.5 1660,945.9 1661.1,960.3 1662.3,972.3 1664.1,983.1 1665.7,993.9 1667.1,1007.1 1668.9,1002.3 1670.7,998.7 1672.5,991.5 1674.3,984.3 1676.7,974.7 1678.5,963.9 1679.7,951.9 1680.9,938.7 1682.5,926.7" fill="none" stroke="#ff0000" stroke-width="3.2" stroke-linejoin="round"/>
<polyline points="1038.5,1119.9 1040.2,1132.1 1041.8,1156.4 1044,1151.9 1045.1,1134.3 1046.9,1116.6 1049.1,1113.3 1051.7,1114.4 1054.4,1118.8 1056.1,1121 1058.3,1105.6 1060.1,1112.2 1061,1127.7 1062.8,1129.9 1064.5,1138.7 1066.1,1147.5 1067.6,1165.2 1068.9,1182.8 1070.5,1185.1 1072,1182.8 1074.9,1178.4 1077.1,1178.4 1079.3,1180.6 1080.4,1160.8 1082.2,1143.1 1084.4,1140.9 1085.9,1149.7 1087.5,1156.4 1089.2,1134.3 1090.3,1107.8 1091.9,1118.8 1093.7,1125.5 1097,1126.6 1099.2,1127.7 1101.4,1118.8 1102.5,1123.3 1103.6,1171.8 1105.1,1156.4 1106.9,1151.9 1109.1,1149.7 1111.3,1138.7 1113.1,1134.3 1114.6,1116.6 1116.8,1116.6 1120.1,1114.4 1122.3,1110 1124.1,1094.6 1125.7,1086.8 1127.2,1123.3 1129,1087.9 1131.2,1085.7 1132.9,1083.5 1134.5,1112.2 1135.6,1125.5 1138.9,1129.9 1142,1132.1 1142.5,1134.3 1145.8,1136.5 1146.9,1090.2 1149.1,1094.6 1150.7,1134.3 1152.9,1147.5 1154.7,1151.9 1156.9,1165.2 1158.6,1147.5 1160.8,1145.3 1164.6,1145.3 1167.9,1143.1 1169.7,1176.2 1171.2,1160.8 1172.8,1163 1175,1187.3 1176.7,1207.1 1178.9,1216 1181.1,1224.8 1184.5,1222.6 1186.7,1218.2 1190,1227 1192.2,1218.2 1194.8,1222.6 1196.6,1187.3 1198.4,1154.2" fill="none" stroke="#ff0000" stroke-width="5" stroke-linejoin="round"/>
<polyline points="1263.2,1046 1264.6,1068.1 1266.1,1054.8 1267,1028.4 1267.5,1023.9 1269.7,1028.4 1272.6,1030.6 1274.8,1035 1276.3,1046 1278.6,1061.5 1280.8,1076.9 1283,1099 1284.5,1118.8 1286.3,1129.9 1288,1143.1 1289.6,1151.9 1291.1,1142 1293.3,1145.3 1296.2,1149.7 1298.4,1147.5" fill="none" stroke="#ff0000" stroke-width="4.2" stroke-linejoin="round"/>
<polyline points="1319.8,1114.4 1321.6,1105.6 1323.4,1099 1324.9,1103.4 1326.4,1107.8 1327.8,1054.8 1328.7,999.7 1330,948.9 1331.5,944.5 1332.6,966.6 1334.4,982 1337,989.7 1339.2,990.8 1341.5,993 1343.7,995.3 1345.4,1005.2 1348.1,993 1350.3,973.2" fill="none" stroke="#ff0000" stroke-width="4.2" stroke-linejoin="round"/>
</g>
<line x1="1016.3" y1="711" x2="1016.3" y2="1306.2" stroke="#000" stroke-width="2"/>
<line x1="1683" y1="711" x2="1683" y2="1306.2" stroke="#000" stroke-width="2"/>
<line x1="1015.3" y1="1305.2" x2="1684" y2="1305.2" stroke="#000" stroke-width="2"/>
<line x1="1016.3" y1="711" x2="1023.3" y2="711" stroke="#000" stroke-width="2"/>
<line x1="1016.3" y1="785.27" x2="1023.3" y2="785.27" stroke="#000" stroke-width="2"/>
<line x1="1016.3" y1="859.55" x2="1023.3" y2="859.55" stroke="#000" stroke-width="2"/>
<line x1="1016.3" y1="933.83" x2="1023.3" y2="933.83" stroke="#000" stroke-width="2"/>
<line x1="1016.3" y1="1008.1" x2="1023.3" y2="1008.1" stroke="#000" stroke-width="2"/>
<line x1="1016.3" y1="1082.38" x2="1023.3" y2="1082.38" stroke="#000" stroke-width="2"/>
<line x1="1016.3" y1="1156.65" x2="1023.3" y2="1156.65" stroke="#000" stroke-width="2"/>
<line x1="1016.3" y1="1230.93" x2="1023.3" y2="1230.93" stroke="#000" stroke-width="2"/>
<line x1="1016.3" y1="1305.2" x2="1023.3" y2="1305.2" stroke="#000" stroke-width="2"/>
<line x1="1676" y1="711" x2="1683" y2="711" stroke="#000" stroke-width="2"/>
<line x1="1676" y1="810.03" x2="1683" y2="810.03" stroke="#000" stroke-width="2"/>
<line x1="1676" y1="909.07" x2="1683" y2="909.07" stroke="#000" stroke-width="2"/>
<line x1="1676" y1="1008.1" x2="1683" y2="1008.1" stroke="#000" stroke-width="2"/>
<line x1="1676" y1="1107.13" x2="1683" y2="1107.13" stroke="#000" stroke-width="2"/>
<line x1="1676" y1="1206.17" x2="1683" y2="1206.17" stroke="#000" stroke-width="2"/>
<line x1="1676" y1="1305.2" x2="1683" y2="1305.2" stroke="#000" stroke-width="2"/>
<line x1="1016.3" y1="1298.2" x2="1016.3" y2="1305.2" stroke="#000" stroke-width="2"/>
<line x1="1127.42" y1="1298.2" x2="1127.42" y2="1305.2" stroke="#000" stroke-width="2"/>
<line x1="1238.53" y1="1298.2" x2="1238.53" y2="1305.2" stroke="#000" stroke-width="2"/>
<line x1="1349.65" y1="1298.2" x2="1349.65" y2="1305.2" stroke="#000" stroke-width="2"/>
<line x1="1460.77" y1="1298.2" x2="1460.77" y2="1305.2" stroke="#000" stroke-width="2"/>
<line x1="1571.88" y1="1298.2" x2="1571.88" y2="1305.2" stroke="#000" stroke-width="2"/>
<line x1="1683" y1="1298.2" x2="1683" y2="1305.2" stroke="#000" stroke-width="2"/>
<text transform="translate(958.71 719) scale(1 1.045)" fill="#808080" stroke="#808080" stroke-width="0.35">-40</text>
<text transform="translate(958.71 793.27) scale(1 1.045)" fill="#808080" stroke="#808080" stroke-width="0.35">-30</text>
<text transform="translate(958.71 867.55) scale(1 1.045)" fill="#808080" stroke="#808080" stroke-width="0.35">-20</text>
<text transform="translate(958.71 941.83) scale(1 1.045)" fill="#808080" stroke="#808080" stroke-width="0.35">-10</text>
<text transform="translate(980.61 1016.1) scale(1 1.045)" fill="#808080" stroke="#808080" stroke-width="0.35">0</text>
<text transform="translate(966.95 1090.38) scale(1 1.045)" fill="#808080" stroke="#808080" stroke-width="0.35">10</text>
<text transform="translate(966.95 1164.65) scale(1 1.045)" fill="#808080" stroke="#808080" stroke-width="0.35">20</text>
<text transform="translate(966.95 1238.93) scale(1 1.045)" fill="#808080" stroke="#808080" stroke-width="0.35">30</text>
<text transform="translate(966.95 1313.2) scale(1 1.045)" fill="#808080" stroke="#808080" stroke-width="0.35">40</text>
<text transform="translate(1691.47 719.1) scale(1 1.045)" fill="#ff0000" stroke="#ff0000" stroke-width="0.35">6.0</text>
<text transform="translate(1692.21 818.1) scale(1 1.045)" fill="#ff0000" stroke="#ff0000" stroke-width="0.35">4.0</text>
<text transform="translate(1691.47 917.1) scale(1 1.045)" fill="#ff0000" stroke="#ff0000" stroke-width="0.35">2.0</text>
<text transform="translate(1691.72 1016.1) scale(1 1.045)" fill="#ff0000" stroke="#ff0000" stroke-width="0.35">0.0</text>
<text transform="translate(1691.59 1115.1) scale(1 1.045)" fill="#ff0000" stroke="#ff0000" stroke-width="0.35">-2.0</text>
<text transform="translate(1691.59 1214.1) scale(1 1.045)" fill="#ff0000" stroke="#ff0000" stroke-width="0.35">-4.0</text>
<text transform="translate(1691.59 1313.1) scale(1 1.045)" fill="#ff0000" stroke="#ff0000" stroke-width="0.35">-6.0</text>
<text transform="translate(990.04 1342.9) scale(1 1.045)" stroke="#000" stroke-width="0.35">1990</text>
<text transform="translate(1100.96 1342.9) scale(1 1.045)" stroke="#000" stroke-width="0.35">1995</text>
<text transform="translate(1212.07 1342.9) scale(1 1.045)" stroke="#000" stroke-width="0.35">2000</text>
<text transform="translate(1322.99 1342.9) scale(1 1.045)" stroke="#000" stroke-width="0.35">2005</text>
<text transform="translate(1433.79 1342.9) scale(1 1.045)" stroke="#000" stroke-width="0.35">2010</text>
<text transform="translate(1544.71 1342.9) scale(1 1.045)" stroke="#000" stroke-width="0.35">2015</text>
<text transform="translate(1655.51 1342.9) scale(1 1.045)" stroke="#000" stroke-width="0.35">2020</text>
<line x1="1439.6" y1="1264.3" x2="1469" y2="1264.3" stroke="#7f7f7f" stroke-width="3.2" stroke-linecap="round"/>
<line x1="1538.1" y1="1264.3" x2="1567.2" y2="1264.3" stroke="#ff0000" stroke-width="3.2" stroke-linecap="round" stroke-opacity="0.76"/>
<text transform="translate(1472.78 1272.4) scale(1 1.045)" font-size="25" stroke="#000" stroke-width="0.35" textLength="41.05" lengthAdjust="spacingAndGlyphs">SIC</text>
<text transform="translate(1571.08 1272.4) scale(1 1.045)" font-size="25" stroke="#000" stroke-width="0.35" textLength="48.34" lengthAdjust="spacingAndGlyphs">SAT</text>
<text transform="translate(948.5 1101.22) rotate(-90) scale(1 1.045)" font-size="25" fill="#808080" stroke="#808080" stroke-width="0.35" textLength="187.23" lengthAdjust="spacingAndGlyphs">SIC anomaly [%]</text>
<text transform="translate(1764 1105.72) rotate(-90) scale(1 1.045)" font-size="25" fill="#ff0000" stroke="#ff0000" stroke-width="0.35" textLength="196.3" lengthAdjust="spacingAndGlyphs">SAT anomaly [°C]</text>
<text transform="translate(21.54 1423) scale(1 1.045)" font-size="39" font-weight="bold" textLength="23.17" lengthAdjust="spacingAndGlyphs">e</text>
<text transform="translate(136.7 1450.1) scale(1 1.045)" font-size="28.4" stroke="#000" stroke-width="0.35" textLength="185.37" lengthAdjust="spacingAndGlyphs">Autumn (SON)</text>
<line x1="120.1" y1="1423.3" x2="120.1" y2="2018.6" stroke="#000" stroke-width="2"/>
<line x1="119.1" y1="2017.6" x2="741.05" y2="2017.6" stroke="#000" stroke-width="2"/>
<line x1="120.1" y1="1423.3" x2="127.1" y2="1423.3" stroke="#000" stroke-width="2"/>
<text transform="translate(70.77 1431) scale(1 1.045)" stroke="#000" stroke-width="0.35">6.0</text>
<line x1="120.1" y1="1472.83" x2="127.1" y2="1472.83" stroke="#000" stroke-width="2"/>
<text transform="translate(70.89 1480.53) scale(1 1.045)" stroke="#000" stroke-width="0.35">5.5</text>
<line x1="120.1" y1="1522.35" x2="127.1" y2="1522.35" stroke="#000" stroke-width="2"/>
<text transform="translate(70.77 1530.05) scale(1 1.045)" stroke="#000" stroke-width="0.35">5.0</text>
<line x1="120.1" y1="1571.88" x2="127.1" y2="1571.88" stroke="#000" stroke-width="2"/>
<text transform="translate(70.89 1579.58) scale(1 1.045)" stroke="#000" stroke-width="0.35">4.5</text>
<line x1="120.1" y1="1621.4" x2="127.1" y2="1621.4" stroke="#000" stroke-width="2"/>
<text transform="translate(70.77 1629.1) scale(1 1.045)" stroke="#000" stroke-width="0.35">4.0</text>
<line x1="120.1" y1="1670.92" x2="127.1" y2="1670.92" stroke="#000" stroke-width="2"/>
<text transform="translate(70.89 1678.62) scale(1 1.045)" stroke="#000" stroke-width="0.35">3.5</text>
<line x1="120.1" y1="1720.45" x2="127.1" y2="1720.45" stroke="#000" stroke-width="2"/>
<text transform="translate(70.77 1728.15) scale(1 1.045)" stroke="#000" stroke-width="0.35">3.0</text>
<line x1="120.1" y1="1769.97" x2="127.1" y2="1769.97" stroke="#000" stroke-width="2"/>
<text transform="translate(70.89 1777.67) scale(1 1.045)" stroke="#000" stroke-width="0.35">2.5</text>
<line x1="120.1" y1="1819.5" x2="127.1" y2="1819.5" stroke="#000" stroke-width="2"/>
<text transform="translate(70.77 1827.2) scale(1 1.045)" stroke="#000" stroke-width="0.35">2.0</text>
<line x1="120.1" y1="1869.02" x2="127.1" y2="1869.02" stroke="#000" stroke-width="2"/>
<text transform="translate(70.89 1876.72) scale(1 1.045)" stroke="#000" stroke-width="0.35">1.5</text>
<line x1="120.1" y1="1918.55" x2="127.1" y2="1918.55" stroke="#000" stroke-width="2"/>
<text transform="translate(70.77 1926.25) scale(1 1.045)" stroke="#000" stroke-width="0.35">1.0</text>
<line x1="120.1" y1="1968.07" x2="127.1" y2="1968.07" stroke="#000" stroke-width="2"/>
<text transform="translate(70.89 1975.78) scale(1 1.045)" stroke="#000" stroke-width="0.35">0.5</text>
<line x1="120.1" y1="2017.6" x2="127.1" y2="2017.6" stroke="#000" stroke-width="2"/>
<text transform="translate(70.77 2025.3) scale(1 1.045)" stroke="#000" stroke-width="0.35">0.0</text>
<line x1="120.1" y1="2010.6" x2="120.1" y2="2017.6" stroke="#000" stroke-width="2"/>
<text transform="translate(111.66 2053) scale(1 1.045)" stroke="#000" stroke-width="0.35">0</text>
<line x1="161.43" y1="2010.6" x2="161.43" y2="2017.6" stroke="#000" stroke-width="2"/>
<text transform="translate(148.89 2053) scale(1 1.045)" stroke="#000" stroke-width="0.35">-2</text>
<line x1="202.76" y1="2010.6" x2="202.76" y2="2017.6" stroke="#000" stroke-width="2"/>
<text transform="translate(190.22 2053) scale(1 1.045)" stroke="#000" stroke-width="0.35">-4</text>
<line x1="244.09" y1="2010.6" x2="244.09" y2="2017.6" stroke="#000" stroke-width="2"/>
<text transform="translate(231.55 2053) scale(1 1.045)" stroke="#000" stroke-width="0.35">-6</text>
<line x1="285.42" y1="2010.6" x2="285.42" y2="2017.6" stroke="#000" stroke-width="2"/>
<text transform="translate(272.88 2053) scale(1 1.045)" stroke="#000" stroke-width="0.35">-8</text>
<line x1="326.75" y1="2010.6" x2="326.75" y2="2017.6" stroke="#000" stroke-width="2"/>
<text transform="translate(307.37 2053) scale(1 1.045)" stroke="#000" stroke-width="0.35">-10</text>
<line x1="368.08" y1="2010.6" x2="368.08" y2="2017.6" stroke="#000" stroke-width="2"/>
<text transform="translate(348.7 2053) scale(1 1.045)" stroke="#000" stroke-width="0.35">-12</text>
<line x1="409.41" y1="2010.6" x2="409.41" y2="2017.6" stroke="#000" stroke-width="2"/>
<text transform="translate(390.03 2053) scale(1 1.045)" stroke="#000" stroke-width="0.35">-14</text>
<line x1="450.74" y1="2010.6" x2="450.74" y2="2017.6" stroke="#000" stroke-width="2"/>
<text transform="translate(431.36 2053) scale(1 1.045)" stroke="#000" stroke-width="0.35">-16</text>
<line x1="492.07" y1="2010.6" x2="492.07" y2="2017.6" stroke="#000" stroke-width="2"/>
<text transform="translate(472.69 2053) scale(1 1.045)" stroke="#000" stroke-width="0.35">-18</text>
<line x1="533.4" y1="2010.6" x2="533.4" y2="2017.6" stroke="#000" stroke-width="2"/>
<text transform="translate(514.02 2053) scale(1 1.045)" stroke="#000" stroke-width="0.35">-20</text>
<line x1="574.73" y1="2010.6" x2="574.73" y2="2017.6" stroke="#000" stroke-width="2"/>
<text transform="translate(555.35 2053) scale(1 1.045)" stroke="#000" stroke-width="0.35">-22</text>
<line x1="616.06" y1="2010.6" x2="616.06" y2="2017.6" stroke="#000" stroke-width="2"/>
<text transform="translate(596.68 2053) scale(1 1.045)" stroke="#000" stroke-width="0.35">-24</text>
<line x1="657.39" y1="2010.6" x2="657.39" y2="2017.6" stroke="#000" stroke-width="2"/>
<text transform="translate(638.01 2053) scale(1 1.045)" stroke="#000" stroke-width="0.35">-26</text>
<line x1="698.72" y1="2010.6" x2="698.72" y2="2017.6" stroke="#000" stroke-width="2"/>
<text transform="translate(679.34 2053) scale(1 1.045)" stroke="#000" stroke-width="0.35">-28</text>
<line x1="740.05" y1="2010.6" x2="740.05" y2="2017.6" stroke="#000" stroke-width="2"/>
<text transform="translate(720.67 2053) scale(1 1.045)" stroke="#000" stroke-width="0.35">-30</text>
<text transform="translate(57.6 1878.21) rotate(-90) scale(1 1.045)" stroke="#000" stroke-width="0.35" textLength="284.58" lengthAdjust="spacingAndGlyphs">SAT trend [°C per decade]</text>
<text transform="translate(287.89 2086.6) scale(1 1.045)" stroke="#000" stroke-width="0.35" textLength="281.82" lengthAdjust="spacingAndGlyphs">SIC trend [% per decade]</text>
<line x1="146.6" y1="1902.8" x2="549.4" y2="1696.9" stroke="#000" stroke-width="2.4" stroke-dasharray="0.1 4.6" stroke-linecap="round"/>
<circle cx="141.3" cy="1887.8" r="8.2" fill="#d6dce5"/>
<circle cx="156.2" cy="1943.6" r="6.6" fill="none" stroke="#bdd7ee" stroke-width="1.9"/>
<circle cx="158.4" cy="1872.5" r="6.6" fill="none" stroke="#00b0f0" stroke-width="1.9"/>
<circle cx="247.3" cy="1864.1" r="8.2" fill="#00b0f0"/>
<circle cx="259.8" cy="1867.2" r="8.2" fill="#bdd7ee"/>
<circle cx="284.2" cy="1856.1" r="6.6" fill="none" stroke="#0070c0" stroke-width="1.9"/>
<circle cx="300.2" cy="1781.2" r="8.2" fill="#0070c0"/>
<circle cx="361.5" cy="1758.4" r="8.2" fill="#002060"/>
<circle cx="393.7" cy="1775.7" r="6.6" fill="none" stroke="#002060" stroke-width="1.9"/>
<rect x="468" y="1734.9" width="13.2" height="13.2" fill="#595959"/>
<rect x="482.2" y="1728.6" width="13" height="13" fill="none" stroke="#a6a6a6" stroke-width="1.9"/>
<rect x="495" y="1729.9" width="13" height="13" fill="none" stroke="#595959" stroke-width="1.9"/>
<rect x="550" y="1681.9" width="16.6" height="16.6" fill="#a6a6a6"/>
<text transform="translate(515.53 1683.9) scale(1 1.045)" stroke="#000" stroke-width="0.35" textLength="31.05" lengthAdjust="spacingAndGlyphs">Na</text>
<text transform="translate(454.83 1724.8) scale(1 1.045)" stroke="#000" stroke-width="0.35" textLength="33.15" lengthAdjust="spacingAndGlyphs">Ru</text>
<text transform="translate(511.73 1737.3) scale(1 1.045)" stroke="#000" stroke-width="0.35" textLength="25.56" lengthAdjust="spacingAndGlyphs">Kr</text>
<text transform="translate(477.89 1767.2) scale(1 1.045)" stroke="#000" stroke-width="0.35" textLength="31.81" lengthAdjust="spacingAndGlyphs">Os</text>
<text transform="translate(320.93 1758) scale(1 1.045)" stroke="#000" stroke-width="0.35" textLength="29.44" lengthAdjust="spacingAndGlyphs">Kv</text>
<text transform="translate(259.23 1776.5) scale(1 1.045)" stroke="#000" stroke-width="0.35" textLength="29.95" lengthAdjust="spacingAndGlyphs">Ka</text>
<text transform="translate(400.93 1795.2) scale(1 1.045)" stroke="#000" stroke-width="0.35" textLength="31.93" lengthAdjust="spacingAndGlyphs">Ko</text>
<text transform="translate(125.03 1915.3) scale(1 1.045)" stroke="#000" stroke-width="0.35" textLength="31.32" lengthAdjust="spacingAndGlyphs">Ny</text>
<text transform="translate(161.29 1864.8) scale(1 1.045)" stroke="#000" stroke-width="0.35" textLength="29.48" lengthAdjust="spacingAndGlyphs">Sv</text>
<text transform="translate(161.89 1963.1) scale(1 1.045)" stroke="#000" stroke-width="0.35" textLength="31.29" lengthAdjust="spacingAndGlyphs">Sø</text>
<text transform="translate(212.98 1853.6) scale(1 1.045)" stroke="#000" stroke-width="0.35" textLength="30.2" lengthAdjust="spacingAndGlyphs">Ve</text>
<text transform="translate(263.73 1894.1) scale(1 1.045)" stroke="#000" stroke-width="0.35" textLength="33.33" lengthAdjust="spacingAndGlyphs">Ho</text>
<text transform="translate(292.63 1874.8) scale(1 1.045)" stroke="#000" stroke-width="0.35" textLength="31.45" lengthAdjust="spacingAndGlyphs">Ed</text>
<text transform="translate(322.33 1924.9) scale(1 1.045)" stroke="#000" stroke-width="0.35" textLength="98.2" lengthAdjust="spacingAndGlyphs">R² = 0.89</text>
<text transform="translate(920.51 1426) scale(1 1.045)" font-size="39" font-weight="bold" textLength="15.51" lengthAdjust="spacingAndGlyphs">f</text>
<text transform="translate(1031.36 1446.9) scale(1 1.045)" font-size="28.4" stroke="#000" stroke-width="0.35" textLength="161.18" lengthAdjust="spacingAndGlyphs">Winter (DJF)</text>
<line x1="1015.3" y1="1421.5" x2="1015.3" y2="2016.7" stroke="#000" stroke-width="2"/>
<line x1="1014.3" y1="2015.7" x2="1635.8" y2="2015.7" stroke="#000" stroke-width="2"/>
<line x1="1015.3" y1="1421.5" x2="1022.3" y2="1421.5" stroke="#000" stroke-width="2"/>
<text transform="translate(965.67 1433.1) scale(1 1.045)" stroke="#000" stroke-width="0.35">6.0</text>
<line x1="1015.3" y1="1471.02" x2="1022.3" y2="1471.02" stroke="#000" stroke-width="2"/>
<text transform="translate(965.79 1482.62) scale(1 1.045)" stroke="#000" stroke-width="0.35">5.5</text>
<line x1="1015.3" y1="1520.53" x2="1022.3" y2="1520.53" stroke="#000" stroke-width="2"/>
<text transform="translate(965.67 1532.13) scale(1 1.045)" stroke="#000" stroke-width="0.35">5.0</text>
<line x1="1015.3" y1="1570.05" x2="1022.3" y2="1570.05" stroke="#000" stroke-width="2"/>
<text transform="translate(965.79 1581.65) scale(1 1.045)" stroke="#000" stroke-width="0.35">4.5</text>
<line x1="1015.3" y1="1619.57" x2="1022.3" y2="1619.57" stroke="#000" stroke-width="2"/>
<text transform="translate(965.67 1631.17) scale(1 1.045)" stroke="#000" stroke-width="0.35">4.0</text>
<line x1="1015.3" y1="1669.08" x2="1022.3" y2="1669.08" stroke="#000" stroke-width="2"/>
<text transform="translate(965.79 1680.68) scale(1 1.045)" stroke="#000" stroke-width="0.35">3.5</text>
<line x1="1015.3" y1="1718.6" x2="1022.3" y2="1718.6" stroke="#000" stroke-width="2"/>
<text transform="translate(965.67 1730.2) scale(1 1.045)" stroke="#000" stroke-width="0.35">3.0</text>
<line x1="1015.3" y1="1768.12" x2="1022.3" y2="1768.12" stroke="#000" stroke-width="2"/>
<text transform="translate(965.79 1779.72) scale(1 1.045)" stroke="#000" stroke-width="0.35">2.5</text>
<line x1="1015.3" y1="1817.63" x2="1022.3" y2="1817.63" stroke="#000" stroke-width="2"/>
<text transform="translate(965.67 1829.23) scale(1 1.045)" stroke="#000" stroke-width="0.35">2.0</text>
<line x1="1015.3" y1="1867.15" x2="1022.3" y2="1867.15" stroke="#000" stroke-width="2"/>
<text transform="translate(965.79 1878.75) scale(1 1.045)" stroke="#000" stroke-width="0.35">1.5</text>
<line x1="1015.3" y1="1916.67" x2="1022.3" y2="1916.67" stroke="#000" stroke-width="2"/>
<text transform="translate(965.67 1928.27) scale(1 1.045)" stroke="#000" stroke-width="0.35">1.0</text>
<line x1="1015.3" y1="1966.18" x2="1022.3" y2="1966.18" stroke="#000" stroke-width="2"/>
<text transform="translate(965.79 1977.78) scale(1 1.045)" stroke="#000" stroke-width="0.35">0.5</text>
<line x1="1015.3" y1="2015.7" x2="1022.3" y2="2015.7" stroke="#000" stroke-width="2"/>
<text transform="translate(965.67 2027.3) scale(1 1.045)" stroke="#000" stroke-width="0.35">0.0</text>
<line x1="1015.3" y1="2008.7" x2="1015.3" y2="2015.7" stroke="#000" stroke-width="2"/>
<text transform="translate(1006.86 2049) scale(1 1.045)" stroke="#000" stroke-width="0.35">0</text>
<line x1="1056.6" y1="2008.7" x2="1056.6" y2="2015.7" stroke="#000" stroke-width="2"/>
<text transform="translate(1044.06 2049) scale(1 1.045)" stroke="#000" stroke-width="0.35">-2</text>
<line x1="1097.9" y1="2008.7" x2="1097.9" y2="2015.7" stroke="#000" stroke-width="2"/>
<text transform="translate(1085.36 2049) scale(1 1.045)" stroke="#000" stroke-width="0.35">-4</text>
<line x1="1139.2" y1="2008.7" x2="1139.2" y2="2015.7" stroke="#000" stroke-width="2"/>
<text transform="translate(1126.66 2049) scale(1 1.045)" stroke="#000" stroke-width="0.35">-6</text>
<line x1="1180.5" y1="2008.7" x2="1180.5" y2="2015.7" stroke="#000" stroke-width="2"/>
<text transform="translate(1167.96 2049) scale(1 1.045)" stroke="#000" stroke-width="0.35">-8</text>
<line x1="1221.8" y1="2008.7" x2="1221.8" y2="2015.7" stroke="#000" stroke-width="2"/>
<text transform="translate(1202.42 2049) scale(1 1.045)" stroke="#000" stroke-width="0.35">-10</text>
<line x1="1263.1" y1="2008.7" x2="1263.1" y2="2015.7" stroke="#000" stroke-width="2"/>
<text transform="translate(1243.72 2049) scale(1 1.045)" stroke="#000" stroke-width="0.35">-12</text>
<line x1="1304.4" y1="2008.7" x2="1304.4" y2="2015.7" stroke="#000" stroke-width="2"/>
<text transform="translate(1285.02 2049) scale(1 1.045)" stroke="#000" stroke-width="0.35">-14</text>
<line x1="1345.7" y1="2008.7" x2="1345.7" y2="2015.7" stroke="#000" stroke-width="2"/>
<text transform="translate(1326.32 2049) scale(1 1.045)" stroke="#000" stroke-width="0.35">-16</text>
<line x1="1387" y1="2008.7" x2="1387" y2="2015.7" stroke="#000" stroke-width="2"/>
<text transform="translate(1367.62 2049) scale(1 1.045)" stroke="#000" stroke-width="0.35">-18</text>
<line x1="1428.3" y1="2008.7" x2="1428.3" y2="2015.7" stroke="#000" stroke-width="2"/>
<text transform="translate(1408.92 2049) scale(1 1.045)" stroke="#000" stroke-width="0.35">-20</text>
<line x1="1469.6" y1="2008.7" x2="1469.6" y2="2015.7" stroke="#000" stroke-width="2"/>
<text transform="translate(1450.22 2049) scale(1 1.045)" stroke="#000" stroke-width="0.35">-22</text>
<line x1="1510.9" y1="2008.7" x2="1510.9" y2="2015.7" stroke="#000" stroke-width="2"/>
<text transform="translate(1491.52 2049) scale(1 1.045)" stroke="#000" stroke-width="0.35">-24</text>
<line x1="1552.2" y1="2008.7" x2="1552.2" y2="2015.7" stroke="#000" stroke-width="2"/>
<text transform="translate(1532.82 2049) scale(1 1.045)" stroke="#000" stroke-width="0.35">-26</text>
<line x1="1593.5" y1="2008.7" x2="1593.5" y2="2015.7" stroke="#000" stroke-width="2"/>
<text transform="translate(1574.12 2049) scale(1 1.045)" stroke="#000" stroke-width="0.35">-28</text>
<line x1="1634.8" y1="2008.7" x2="1634.8" y2="2015.7" stroke="#000" stroke-width="2"/>
<text transform="translate(1615.42 2049) scale(1 1.045)" stroke="#000" stroke-width="0.35">-30</text>
<text transform="translate(954.1 1879.81) rotate(-90) scale(1 1.045)" stroke="#000" stroke-width="0.35" textLength="284.68" lengthAdjust="spacingAndGlyphs">SAT trend [°C per decade]</text>
<text transform="translate(1185.09 2082.5) scale(1 1.045)" stroke="#000" stroke-width="0.35" textLength="281.62" lengthAdjust="spacingAndGlyphs">SIC trend [% per decade]</text>
<line x1="1063.2" y1="1678.2" x2="1285.1" y2="1516.7" stroke="#7f7f7f" stroke-width="1.9" stroke-dasharray="5.5 4.5"/>
<line x1="1308.5" y1="1813.1" x2="1571.4" y2="1525.4" stroke="#000" stroke-width="1.9" stroke-dasharray="5.5 4.5"/>
<rect x="1168.6" y="1533.2" width="13.2" height="13.2" fill="#595959"/>
<circle cx="1261.6" cy="1524.4" r="8.2" fill="#002060"/>
<circle cx="1285" cy="1527.3" r="6.6" fill="none" stroke="#002060" stroke-width="1.9"/>
<rect x="1151.5" y="1597.6" width="16.6" height="16.6" fill="#a6a6a6"/>
<rect x="1057" y="1637.5" width="13" height="13" fill="none" stroke="#595959" stroke-width="1.9"/>
<circle cx="1157.2" cy="1669.2" r="6.6" fill="none" stroke="#0070c0" stroke-width="1.9"/>
<rect x="1074.1" y="1691.6" width="13" height="13" fill="none" stroke="#a6a6a6" stroke-width="1.9"/>
<circle cx="1571.8" cy="1514.6" r="8.2" fill="#0070c0"/>
<circle cx="1412.2" cy="1673.5" r="8.2" fill="#00b0f0"/>
<circle cx="1426.7" cy="1712.3" r="8.2" fill="#bdd7ee"/>
<circle cx="1401.7" cy="1738.6" r="6.6" fill="none" stroke="#00b0f0" stroke-width="1.9"/>
<circle cx="1346.6" cy="1776.3" r="6.6" fill="none" stroke="#bdd7ee" stroke-width="1.9"/>
<circle cx="1309.6" cy="1792.7" r="8.2" fill="#d6dce5"/>
<text transform="translate(1135.99 1534.9) scale(1 1.045)" stroke="#000" stroke-width="0.35" textLength="31.71" lengthAdjust="spacingAndGlyphs">Os</text>
<text transform="translate(1224.93 1522.1) scale(1 1.045)" stroke="#000" stroke-width="0.35" textLength="28.84" lengthAdjust="spacingAndGlyphs">Kv</text>
<text transform="translate(1291.63 1547.6) scale(1 1.045)" stroke="#000" stroke-width="0.35" textLength="31.93" lengthAdjust="spacingAndGlyphs">Ko</text>
<text transform="translate(1116.43 1597.8) scale(1 1.045)" stroke="#000" stroke-width="0.35" textLength="31.85" lengthAdjust="spacingAndGlyphs">Na</text>
<text transform="translate(1071.93 1640.3) scale(1 1.045)" stroke="#000" stroke-width="0.35" textLength="26.56" lengthAdjust="spacingAndGlyphs">Kr</text>
<text transform="translate(1164.93 1671.8) scale(1 1.045)" stroke="#000" stroke-width="0.35" textLength="30.85" lengthAdjust="spacingAndGlyphs">Ed</text>
<text transform="translate(1090.93 1699.8) scale(1 1.045)" stroke="#000" stroke-width="0.35" textLength="32.55" lengthAdjust="spacingAndGlyphs">Ru</text>
<text transform="translate(1531.73 1510.9) scale(1 1.045)" stroke="#000" stroke-width="0.35" textLength="30.15" lengthAdjust="spacingAndGlyphs">Ka</text>
<text transform="translate(1373.88 1668.6) scale(1 1.045)" stroke="#000" stroke-width="0.35" textLength="31.1" lengthAdjust="spacingAndGlyphs">Ve</text>
<text transform="translate(1437.53 1714.3) scale(1 1.045)" stroke="#000" stroke-width="0.35" textLength="33.33" lengthAdjust="spacingAndGlyphs">Ho</text>
<text transform="translate(1410.59 1756.3) scale(1 1.045)" stroke="#000" stroke-width="0.35" textLength="28.08" lengthAdjust="spacingAndGlyphs">Sv</text>
<text transform="translate(1353.69 1793.2) scale(1 1.045)" stroke="#000" stroke-width="0.35" textLength="30.89" lengthAdjust="spacingAndGlyphs">Sø</text>
<text transform="translate(1267.43 1806.5) scale(1 1.045)" stroke="#000" stroke-width="0.35" textLength="30.62" lengthAdjust="spacingAndGlyphs">Ny</text>
<text transform="translate(1288.73 1862.7) scale(1 1.045)" stroke="#000" stroke-width="0.35" textLength="98.18" lengthAdjust="spacingAndGlyphs">R² = 0.95</text>
<text transform="translate(1043.03 1743.5) scale(1 1.045)" fill="#808080" stroke="#808080" stroke-width="0.35" textLength="97.56" lengthAdjust="spacingAndGlyphs">R² = 0.70</text>
</svg></body></html>
